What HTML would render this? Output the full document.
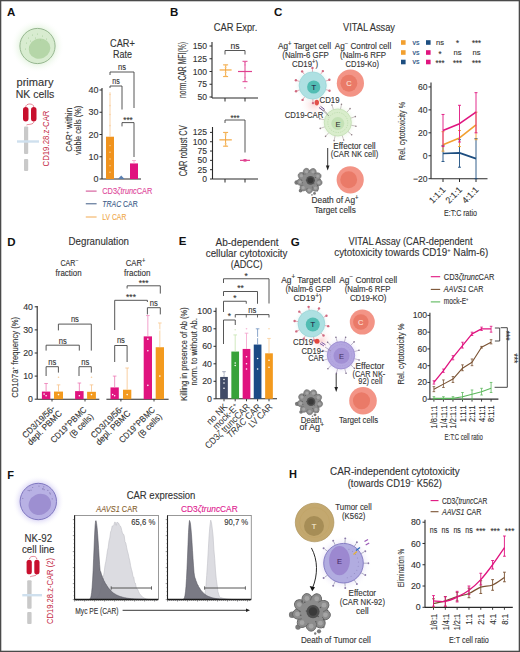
<!DOCTYPE html><html><head><meta charset="utf-8"><style>html,body{margin:0;padding:0;background:#fff;}svg{display:block;}</style></head><body><svg width="520" height="652" viewBox="0 0 520 652" font-family='"Liberation Sans", sans-serif' fill="#333"><rect x="0.00" y="0.00" width="520.00" height="652.00" fill="#ffffff" />
<text x="7.00" y="16.20" font-size="11.5" fill="#111" font-weight="bold" >A</text>
<defs><radialGradient id="glowG" cx="50%" cy="50%" r="50%"><stop offset="55%" stop-color="#d9efd2" stop-opacity="1"/><stop offset="100%" stop-color="#ffffff" stop-opacity="0"/></radialGradient><radialGradient id="glowP" cx="50%" cy="50%" r="50%"><stop offset="60%" stop-color="#c6bff0" stop-opacity="1"/><stop offset="100%" stop-color="#ffffff" stop-opacity="0"/></radialGradient></defs>
<circle cx="37.50" cy="46.00" r="27.00" fill="url(#glowG)" />
<circle cx="37.50" cy="46.00" r="17.60" fill="#d8ecd0" stroke="#8fb088" stroke-width="0.9"/>
<ellipse cx="39.5" cy="48.6" rx="11" ry="10" transform="rotate(-25 39.5 48.6)" fill="#b5d6a8"/>
<circle cx="28.50" cy="38.00" r="0.55" fill="#a8cf9c" />
<circle cx="32.50" cy="35.00" r="0.55" fill="#a8cf9c" />
<circle cx="37.50" cy="34.00" r="0.55" fill="#a8cf9c" />
<circle cx="42.50" cy="36.00" r="0.55" fill="#a8cf9c" />
<circle cx="26.50" cy="43.00" r="0.55" fill="#a8cf9c" />
<circle cx="30.50" cy="41.00" r="0.55" fill="#a8cf9c" />
<circle cx="35.50" cy="38.00" r="0.55" fill="#a8cf9c" />
<circle cx="40.50" cy="40.00" r="0.55" fill="#a8cf9c" />
<circle cx="25.50" cy="49.00" r="0.55" fill="#a8cf9c" />
<circle cx="29.50" cy="47.00" r="0.55" fill="#a8cf9c" />
<circle cx="46.50" cy="39.00" r="0.55" fill="#a8cf9c" />
<text x="35.00" y="86.00" font-size="10.71" text-anchor="middle" stroke="#333" stroke-width="0.12" textLength="37.00" lengthAdjust="spacingAndGlyphs" >primary</text>
<text x="35.00" y="97.50" font-size="10.71" text-anchor="middle" stroke="#333" stroke-width="0.12" textLength="38.50" lengthAdjust="spacingAndGlyphs" >NK cells</text>
<rect x="23" y="107" width="5.5" height="14.5" rx="2.75" fill="#c8102e"/>
<rect x="31" y="107" width="5.5" height="14.5" rx="2.75" fill="#c8102e"/>
<path d="M25.7 107 C25.7 103 33.8 103 33.8 107 M33.8 121.5 C33.8 125 28 124 26.5 125" stroke="#c8102e" stroke-width="0.5" fill="none" />
<rect x="24.00" y="126.50" width="4.20" height="27.50" fill="#c9c9c9" rx="1"/>
<rect x="24.00" y="159.00" width="4.20" height="12.00" fill="#c9c9c9" rx="1"/>
<rect x="17.00" y="140.30" width="22.00" height="2.40" fill="#cfe0ee" />
<text x="48.80" y="138.50" font-size="9.03" text-anchor="middle" fill="#c42a44" textLength="56.00" lengthAdjust="spacingAndGlyphs" transform="rotate(-90 48.80 138.50)" >CD19.28.z-CAR</text>
<text x="72.30" y="129.70" font-size="9.66" text-anchor="middle" stroke="#333" stroke-width="0.12" textLength="44.00" lengthAdjust="spacingAndGlyphs" transform="rotate(-90 72.30 129.70)" >CAR<tspan dy="-3" font-size="6">+</tspan><tspan dy="3"> within</tspan></text>
<text x="81.30" y="130.40" font-size="9.66" text-anchor="middle" stroke="#333" stroke-width="0.12" textLength="49.00" lengthAdjust="spacingAndGlyphs" transform="rotate(-90 81.30 130.40)" >viable cells (%)</text>
<text x="122.40" y="46.70" font-size="10.08" text-anchor="middle" stroke="#333" stroke-width="0.12" textLength="24.80" lengthAdjust="spacingAndGlyphs" >CAR+</text>
<text x="122.40" y="57.70" font-size="10.08" text-anchor="middle" stroke="#333" stroke-width="0.12" textLength="19.00" lengthAdjust="spacingAndGlyphs" >Rate</text>
<line x1="102.00" y1="88.00" x2="102.00" y2="179.00" stroke="#2a2a2a" stroke-width="1.1" />
<line x1="99.50" y1="179.00" x2="102.00" y2="179.00" stroke="#2a2a2a" stroke-width="0.9900000000000001" />
<text x="98.50" y="182.15" font-size="9.45" text-anchor="end" stroke="#333" stroke-width="0.12" textLength="5.00" lengthAdjust="spacingAndGlyphs" >0</text>
<line x1="99.50" y1="156.75" x2="102.00" y2="156.75" stroke="#2a2a2a" stroke-width="0.9900000000000001" />
<text x="98.50" y="159.90" font-size="9.45" text-anchor="end" stroke="#333" stroke-width="0.12" textLength="10.01" lengthAdjust="spacingAndGlyphs" >10</text>
<line x1="99.50" y1="134.50" x2="102.00" y2="134.50" stroke="#2a2a2a" stroke-width="0.9900000000000001" />
<text x="98.50" y="137.65" font-size="9.45" text-anchor="end" stroke="#333" stroke-width="0.12" textLength="10.01" lengthAdjust="spacingAndGlyphs" >20</text>
<line x1="99.50" y1="112.25" x2="102.00" y2="112.25" stroke="#2a2a2a" stroke-width="0.9900000000000001" />
<text x="98.50" y="115.40" font-size="9.45" text-anchor="end" stroke="#333" stroke-width="0.12" textLength="10.01" lengthAdjust="spacingAndGlyphs" >30</text>
<line x1="99.50" y1="90.00" x2="102.00" y2="90.00" stroke="#2a2a2a" stroke-width="0.9900000000000001" />
<text x="98.50" y="93.15" font-size="9.45" text-anchor="end" stroke="#333" stroke-width="0.12" textLength="10.01" lengthAdjust="spacingAndGlyphs" >40</text>
<line x1="102.00" y1="179.00" x2="141.00" y2="179.00" stroke="#2a2a2a" stroke-width="1.1" />
<rect x="106.00" y="136.72" width="8.00" height="42.28" fill="#f0931e" />
<circle cx="110.00" cy="172.32" r="0.70" fill="#fbd9a8" />
<circle cx="110.00" cy="165.65" r="0.70" fill="#fbd9a8" />
<circle cx="110.00" cy="158.97" r="0.70" fill="#fbd9a8" />
<circle cx="110.00" cy="152.30" r="0.70" fill="#fbd9a8" />
<circle cx="110.00" cy="145.62" r="0.70" fill="#fbd9a8" />
<path d="M118 179.0 L121.2 175.44 L124.5 179.0 Z" stroke="none" stroke-width="1" fill="#5a7fb0" />
<rect x="130.00" y="163.43" width="8.00" height="15.57" fill="#e0137f" />
<line x1="110.00" y1="136.72" x2="110.00" y2="92.22" stroke="#f7c690" stroke-width="0.8" />
<circle cx="110.00" cy="125.60" r="0.80" fill="#f8d2a8" />
<circle cx="110.00" cy="114.47" r="0.80" fill="#f8d2a8" />
<circle cx="110.00" cy="105.58" r="0.80" fill="#f8d2a8" />
<circle cx="110.00" cy="94.45" r="0.80" fill="#f8d2a8" />
<line x1="134.00" y1="163.43" x2="134.00" y2="160.53" stroke="#f5a0c8" stroke-width="0.8" />
<line x1="132.00" y1="160.53" x2="136.00" y2="160.53" stroke="#f5a0c8" stroke-width="0.8" />
<text x="122.00" y="69.80" font-size="9.03" text-anchor="middle" stroke="#333" stroke-width="0.12" textLength="8.00" lengthAdjust="spacingAndGlyphs" >ns</text>
<path d="M110.00 75.00V72.00H134.00V108.00" stroke="#444" stroke-width="0.9" fill="none" />
<text x="116.00" y="84.20" font-size="9.03" text-anchor="middle" stroke="#333" stroke-width="0.12" textLength="7.50" lengthAdjust="spacingAndGlyphs" >ns</text>
<path d="M110.00 88.00V86.00H122.00V109.50" stroke="#444" stroke-width="0.9" fill="none" />
<text x="128.00" y="122.60" font-size="9.03" text-anchor="middle" stroke="#333" stroke-width="0.12" textLength="9.50" lengthAdjust="spacingAndGlyphs" >***</text>
<path d="M122.00 126.40V122.60H134.00V157.00" stroke="#444" stroke-width="0.9" fill="none" />
<line x1="85.80" y1="191.10" x2="96.60" y2="191.10" stroke="#c8307f" stroke-width="0.9" />
<text x="102.30" y="194.20" font-size="8.61" fill="#e0479a" stroke="#e0479a" stroke-width="0.12" textLength="50.00" lengthAdjust="spacingAndGlyphs" >CD3<tspan font-style="italic">ζtrunc</tspan>CAR</text>
<line x1="85.80" y1="203.80" x2="96.60" y2="203.80" stroke="#2a4a78" stroke-width="0.9" />
<text x="102.30" y="207.00" font-size="8.61" fill="#3a5a88" stroke="#3a5a88" stroke-width="0.12" textLength="35.40" lengthAdjust="spacingAndGlyphs" ><tspan font-style="italic">TRAC</tspan> CAR</text>
<line x1="85.80" y1="217.00" x2="96.60" y2="217.00" stroke="#f0a040" stroke-width="0.9" />
<text x="102.30" y="219.70" font-size="8.61" fill="#f0a848" stroke="#f0a848" stroke-width="0.12" textLength="24.00" lengthAdjust="spacingAndGlyphs" >LV CAR</text>
<text x="170.00" y="16.20" font-size="11.5" fill="#111" font-weight="bold" >B</text>
<text x="235.50" y="31.00" font-size="10.29" text-anchor="middle" stroke="#333" stroke-width="0.12" textLength="43.50" lengthAdjust="spacingAndGlyphs" >CAR Expr.</text>
<line x1="212.00" y1="42.00" x2="212.00" y2="98.00" stroke="#2a2a2a" stroke-width="1.1" />
<line x1="209.50" y1="97.00" x2="212.00" y2="97.00" stroke="#2a2a2a" stroke-width="0.9900000000000001" />
<text x="207.00" y="100.01" font-size="9.03" text-anchor="end" stroke="#333" stroke-width="0.12" textLength="9.56" lengthAdjust="spacingAndGlyphs" >50</text>
<line x1="209.50" y1="84.25" x2="212.00" y2="84.25" stroke="#2a2a2a" stroke-width="0.9900000000000001" />
<text x="207.00" y="87.26" font-size="9.03" text-anchor="end" stroke="#333" stroke-width="0.12" textLength="9.56" lengthAdjust="spacingAndGlyphs" >75</text>
<line x1="209.50" y1="71.50" x2="212.00" y2="71.50" stroke="#2a2a2a" stroke-width="0.9900000000000001" />
<text x="207.00" y="74.51" font-size="9.03" text-anchor="end" stroke="#333" stroke-width="0.12" textLength="14.35" lengthAdjust="spacingAndGlyphs" >100</text>
<line x1="209.50" y1="58.75" x2="212.00" y2="58.75" stroke="#2a2a2a" stroke-width="0.9900000000000001" />
<text x="207.00" y="61.76" font-size="9.03" text-anchor="end" stroke="#333" stroke-width="0.12" textLength="14.35" lengthAdjust="spacingAndGlyphs" >125</text>
<line x1="209.50" y1="46.00" x2="212.00" y2="46.00" stroke="#2a2a2a" stroke-width="0.9900000000000001" />
<text x="207.00" y="49.01" font-size="9.03" text-anchor="end" stroke="#333" stroke-width="0.12" textLength="14.35" lengthAdjust="spacingAndGlyphs" >150</text>
<line x1="212.00" y1="98.00" x2="258.00" y2="98.00" stroke="#2a2a2a" stroke-width="1.1" />
<line x1="225.00" y1="98.00" x2="225.00" y2="101.50" stroke="#2a2a2a" stroke-width="1" />
<line x1="245.00" y1="98.00" x2="245.00" y2="101.50" stroke="#2a2a2a" stroke-width="1" />
<text x="186.30" y="70.00" font-size="10.71" text-anchor="middle" stroke="#333" stroke-width="0.12" textLength="56.00" lengthAdjust="spacingAndGlyphs" transform="rotate(-90 186.30 70.00)" >norm.CAR MFI(%)</text>
<text x="235.00" y="48.50" font-size="9.03" text-anchor="middle" stroke="#333" stroke-width="0.12" textLength="9.08" lengthAdjust="spacingAndGlyphs" >ns</text>
<path d="M225.00 54.50V50.50H245.00V54.50" stroke="#444" stroke-width="0.9" fill="none" />
<line x1="219.60" y1="69.97" x2="231.60" y2="69.97" stroke="#f2a640" stroke-width="1.2" />
<line x1="225.60" y1="64.87" x2="225.60" y2="76.60" stroke="#f2a640" stroke-width="1.0" />
<line x1="223.10" y1="64.87" x2="228.10" y2="64.87" stroke="#f2a640" stroke-width="1.0" />
<line x1="223.10" y1="76.60" x2="228.10" y2="76.60" stroke="#f2a640" stroke-width="1.0" />
<circle cx="225.60" cy="75.58" r="0.90" fill="#f6c070" />
<circle cx="225.60" cy="72.52" r="0.90" fill="#f6c070" />
<circle cx="225.60" cy="67.42" r="0.90" fill="#f6c070" />
<circle cx="225.60" cy="65.38" r="0.90" fill="#f6c070" />
<line x1="238.00" y1="71.50" x2="252.00" y2="71.50" stroke="#e0408f" stroke-width="1.2" />
<line x1="245.00" y1="61.30" x2="245.00" y2="81.70" stroke="#e0408f" stroke-width="1.0" />
<line x1="242.50" y1="61.30" x2="247.50" y2="61.30" stroke="#e0408f" stroke-width="1.0" />
<line x1="242.50" y1="81.70" x2="247.50" y2="81.70" stroke="#e0408f" stroke-width="1.0" />
<circle cx="245.00" cy="87.82" r="0.90" fill="#ec80b8" />
<circle cx="245.00" cy="77.62" r="0.90" fill="#ec80b8" />
<circle cx="245.00" cy="64.87" r="0.90" fill="#ec80b8" />
<circle cx="245.00" cy="62.32" r="0.90" fill="#ec80b8" />
<line x1="212.50" y1="127.00" x2="212.50" y2="179.00" stroke="#2a2a2a" stroke-width="1.1" />
<line x1="210.00" y1="179.00" x2="212.50" y2="179.00" stroke="#2a2a2a" stroke-width="0.9900000000000001" />
<text x="207.00" y="182.01" font-size="9.03" text-anchor="end" stroke="#333" stroke-width="0.12" textLength="4.78" lengthAdjust="spacingAndGlyphs" >0</text>
<line x1="210.00" y1="169.68" x2="212.50" y2="169.68" stroke="#2a2a2a" stroke-width="0.9900000000000001" />
<text x="207.00" y="172.69" font-size="9.03" text-anchor="end" stroke="#333" stroke-width="0.12" textLength="9.56" lengthAdjust="spacingAndGlyphs" >25</text>
<line x1="210.00" y1="160.36" x2="212.50" y2="160.36" stroke="#2a2a2a" stroke-width="0.9900000000000001" />
<text x="207.00" y="163.37" font-size="9.03" text-anchor="end" stroke="#333" stroke-width="0.12" textLength="9.56" lengthAdjust="spacingAndGlyphs" >50</text>
<line x1="210.00" y1="151.04" x2="212.50" y2="151.04" stroke="#2a2a2a" stroke-width="0.9900000000000001" />
<text x="207.00" y="154.05" font-size="9.03" text-anchor="end" stroke="#333" stroke-width="0.12" textLength="9.56" lengthAdjust="spacingAndGlyphs" >75</text>
<line x1="210.00" y1="141.72" x2="212.50" y2="141.72" stroke="#2a2a2a" stroke-width="0.9900000000000001" />
<text x="207.00" y="144.73" font-size="9.03" text-anchor="end" stroke="#333" stroke-width="0.12" textLength="14.35" lengthAdjust="spacingAndGlyphs" >100</text>
<line x1="210.00" y1="132.40" x2="212.50" y2="132.40" stroke="#2a2a2a" stroke-width="0.9900000000000001" />
<text x="207.00" y="135.41" font-size="9.03" text-anchor="end" stroke="#333" stroke-width="0.12" textLength="14.35" lengthAdjust="spacingAndGlyphs" >125</text>
<line x1="212.50" y1="179.00" x2="258.00" y2="179.00" stroke="#2a2a2a" stroke-width="1.1" />
<line x1="225.00" y1="179.00" x2="225.00" y2="182.50" stroke="#2a2a2a" stroke-width="1" />
<line x1="245.00" y1="179.00" x2="245.00" y2="182.50" stroke="#2a2a2a" stroke-width="1" />
<text x="187.00" y="150.80" font-size="10.71" text-anchor="middle" stroke="#333" stroke-width="0.12" textLength="51.00" lengthAdjust="spacingAndGlyphs" transform="rotate(-90 187.00 150.80)" >CAR robust CV</text>
<text x="235.00" y="120.60" font-size="9.03" text-anchor="middle" stroke="#333" stroke-width="0.12" textLength="9.00" lengthAdjust="spacingAndGlyphs" >***</text>
<path d="M225.00 123.00V120.00H245.00V152.50" stroke="#444" stroke-width="0.9" fill="none" />
<line x1="219.40" y1="139.86" x2="231.80" y2="139.86" stroke="#f2a640" stroke-width="1.2" />
<line x1="225.60" y1="132.40" x2="225.60" y2="146.19" stroke="#f2a640" stroke-width="1.0" />
<line x1="223.10" y1="132.40" x2="228.10" y2="132.40" stroke="#f2a640" stroke-width="1.0" />
<line x1="223.10" y1="146.19" x2="228.10" y2="146.19" stroke="#f2a640" stroke-width="1.0" />
<circle cx="225.60" cy="145.45" r="0.90" fill="#f6c070" />
<circle cx="225.60" cy="143.58" r="0.90" fill="#f6c070" />
<circle cx="225.60" cy="135.01" r="0.90" fill="#f6c070" />
<circle cx="225.60" cy="133.52" r="0.90" fill="#f6c070" />
<line x1="240.00" y1="160.36" x2="250.00" y2="160.36" stroke="#e0408f" stroke-width="1.2" />
<line x1="245.00" y1="159.61" x2="245.00" y2="161.11" stroke="#e0408f" stroke-width="1.0" />
<line x1="243.50" y1="159.61" x2="246.50" y2="159.61" stroke="#e0408f" stroke-width="1.0" />
<line x1="243.50" y1="161.11" x2="246.50" y2="161.11" stroke="#e0408f" stroke-width="1.0" />
<text x="274.00" y="16.00" font-size="11.5" fill="#111" font-weight="bold" >C</text>
<text x="369.00" y="31.00" font-size="10.29" text-anchor="middle" stroke="#333" stroke-width="0.12" textLength="52.00" lengthAdjust="spacingAndGlyphs" >VITAL Assay</text>
<text x="304.50" y="49.00" font-size="9.03" text-anchor="middle" stroke="#333" stroke-width="0.12" textLength="53.00" lengthAdjust="spacingAndGlyphs" >Ag<tspan dy="-3" font-size="6.6">+</tspan><tspan dy="3"> Target cell</tspan></text>
<text x="305.50" y="58.30" font-size="9.03" text-anchor="middle" stroke="#333" stroke-width="0.12" textLength="46.50" lengthAdjust="spacingAndGlyphs" >(Nalm-6 GFP</text>
<text x="305.00" y="67.30" font-size="9.03" text-anchor="middle" stroke="#333" stroke-width="0.12" textLength="26.00" lengthAdjust="spacingAndGlyphs" >CD19<tspan dy="-3" font-size="6.6">+</tspan><tspan dy="3">)</tspan></text>
<text x="363.00" y="49.00" font-size="9.03" text-anchor="middle" stroke="#333" stroke-width="0.12" textLength="56.50" lengthAdjust="spacingAndGlyphs" >Ag<tspan dy="-3" font-size="6.6">−</tspan><tspan dy="3"> Control cell</tspan></text>
<text x="363.00" y="58.30" font-size="9.03" text-anchor="middle" stroke="#333" stroke-width="0.12" textLength="46.00" lengthAdjust="spacingAndGlyphs" >(Nalm-6 RFP</text>
<text x="362.30" y="67.30" font-size="9.03" text-anchor="middle" stroke="#333" stroke-width="0.12" textLength="33.50" lengthAdjust="spacingAndGlyphs" >CD19-Ko)</text>
<defs><radialGradient id="glowT" cx="50%" cy="50%" r="50%"><stop offset="60%" stop-color="#d8f0f0"/><stop offset="100%" stop-color="#fff" stop-opacity="0"/></radialGradient><radialGradient id="glowR" cx="50%" cy="50%" r="50%"><stop offset="0%" stop-color="#fbd6d6"/><stop offset="100%" stop-color="#fff" stop-opacity="0"/></radialGradient><radialGradient id="glowE" cx="50%" cy="50%" r="50%"><stop offset="60%" stop-color="#e6f3de"/><stop offset="100%" stop-color="#fff" stop-opacity="0"/></radialGradient></defs>
<circle cx="314.00" cy="104.00" r="14.00" fill="url(#glowR)" />
<circle cx="312.70" cy="85.50" r="18.60" fill="url(#glowT)" />
<line x1="325.69" y1="89.52" x2="329.51" y2="90.70" stroke="#d98a98" stroke-width="0.7" />
<circle cx="329.51" cy="90.70" r="1.20" fill="#d06a80" />
<line x1="312.89" y1="99.10" x2="312.95" y2="103.10" stroke="#d98a98" stroke-width="0.7" />
<circle cx="312.95" cy="103.10" r="1.20" fill="#d06a80" />
<line x1="304.86" y1="96.61" x2="302.56" y2="99.88" stroke="#d98a98" stroke-width="0.7" />
<circle cx="302.56" cy="99.88" r="1.20" fill="#d06a80" />
<line x1="299.83" y1="89.89" x2="296.04" y2="91.18" stroke="#d98a98" stroke-width="0.7" />
<circle cx="296.04" cy="91.18" r="1.20" fill="#d06a80" />
<line x1="299.71" y1="81.48" x2="295.89" y2="80.30" stroke="#d98a98" stroke-width="0.7" />
<circle cx="295.89" cy="80.30" r="1.20" fill="#d06a80" />
<line x1="304.55" y1="74.61" x2="302.15" y2="71.41" stroke="#d98a98" stroke-width="0.7" />
<circle cx="302.15" cy="71.41" r="1.20" fill="#d06a80" />
<line x1="312.51" y1="71.90" x2="312.45" y2="67.90" stroke="#d98a98" stroke-width="0.7" />
<circle cx="312.45" cy="67.90" r="1.20" fill="#d06a80" />
<line x1="320.54" y1="74.39" x2="322.84" y2="71.12" stroke="#d98a98" stroke-width="0.7" />
<circle cx="322.84" cy="71.12" r="1.20" fill="#d06a80" />
<line x1="325.57" y1="81.11" x2="329.36" y2="79.82" stroke="#d98a98" stroke-width="0.7" />
<circle cx="329.36" cy="79.82" r="1.20" fill="#d06a80" />
<circle cx="312.70" cy="85.50" r="13.60" fill="#aee0e2" stroke="#8fd0d2" stroke-width="0.6"/>
<circle cx="313.70" cy="87.00" r="6.60" fill="#52bdb3" />
<text x="313.70" y="89.80" font-size="7.88" text-anchor="middle" fill="#224" stroke="#224" stroke-width="0.12" textLength="4.58" lengthAdjust="spacingAndGlyphs" >T</text>
<circle cx="350.40" cy="83.20" r="13.60" fill="#f39486" />
<circle cx="348.90" cy="83.20" r="8.43" fill="#ea7a68" />
<text x="348.90" y="86.00" font-size="7.88" text-anchor="middle" fill="#fde0d8" stroke="#fde0d8" stroke-width="0.12" textLength="5.42" lengthAdjust="spacingAndGlyphs" >C</text>
<circle cx="337.80" cy="122.50" r="19.00" fill="url(#glowE)" />
<line x1="351.13" y1="125.20" x2="355.93" y2="126.18" stroke="#9a8a8a" stroke-width="0.5" />
<circle cx="355.93" cy="126.18" r="0.80" fill="#8f7f86" />
<line x1="347.99" y1="131.50" x2="351.66" y2="134.75" stroke="#9a8a8a" stroke-width="0.5" />
<circle cx="351.66" cy="134.75" r="0.80" fill="#8f7f86" />
<line x1="342.12" y1="135.39" x2="343.68" y2="140.04" stroke="#9a8a8a" stroke-width="0.5" />
<circle cx="343.68" cy="140.04" r="0.80" fill="#8f7f86" />
<line x1="335.10" y1="135.83" x2="334.12" y2="140.63" stroke="#9a8a8a" stroke-width="0.5" />
<circle cx="334.12" cy="140.63" r="0.80" fill="#8f7f86" />
<line x1="328.80" y1="132.69" x2="325.55" y2="136.36" stroke="#9a8a8a" stroke-width="0.5" />
<circle cx="325.55" cy="136.36" r="0.80" fill="#8f7f86" />
<line x1="324.91" y1="126.82" x2="320.26" y2="128.38" stroke="#9a8a8a" stroke-width="0.5" />
<circle cx="320.26" cy="128.38" r="0.80" fill="#8f7f86" />
<line x1="324.47" y1="119.80" x2="319.67" y2="118.82" stroke="#9a8a8a" stroke-width="0.5" />
<circle cx="319.67" cy="118.82" r="0.80" fill="#8f7f86" />
<line x1="327.61" y1="113.50" x2="323.94" y2="110.25" stroke="#9a8a8a" stroke-width="0.5" />
<circle cx="323.94" cy="110.25" r="0.80" fill="#8f7f86" />
<line x1="333.48" y1="109.61" x2="331.92" y2="104.96" stroke="#9a8a8a" stroke-width="0.5" />
<circle cx="331.92" cy="104.96" r="0.80" fill="#8f7f86" />
<line x1="340.50" y1="109.17" x2="341.48" y2="104.37" stroke="#9a8a8a" stroke-width="0.5" />
<circle cx="341.48" cy="104.37" r="0.80" fill="#8f7f86" />
<line x1="346.80" y1="112.31" x2="350.05" y2="108.64" stroke="#9a8a8a" stroke-width="0.5" />
<circle cx="350.05" cy="108.64" r="0.80" fill="#8f7f86" />
<line x1="350.69" y1="118.18" x2="355.34" y2="116.62" stroke="#9a8a8a" stroke-width="0.5" />
<circle cx="355.34" cy="116.62" r="0.80" fill="#8f7f86" />
<circle cx="337.80" cy="122.50" r="13.60" fill="#d9edcc" stroke="#b8d9a8" stroke-width="0.6"/>
<circle cx="337.80" cy="122.50" r="10.00" fill="none" stroke="#a5cc95" stroke-width="0.5" stroke-dasharray="1.2 1.2"/>
<circle cx="337.80" cy="123.50" r="6.50" fill="#c4e2b6" />
<text x="338.00" y="126.50" font-size="7.88" text-anchor="middle" stroke="#333" stroke-width="0.12" textLength="5.00" lengthAdjust="spacingAndGlyphs" >E</text>
<ellipse cx="316.8" cy="102.6" rx="2.2" ry="2.8" fill="#e2504a"/>
<line x1="319.00" y1="107.50" x2="323.00" y2="110.50" stroke="#5a3a80" stroke-width="0.9" />
<line x1="320.50" y1="106.30" x2="324.50" y2="109.30" stroke="#5a3a80" stroke-width="0.9" />
<line x1="323.00" y1="110.70" x2="329.00" y2="116.00" stroke="#6a6a6a" stroke-width="0.6" />
<text x="329.50" y="103.00" font-size="8.61" text-anchor="middle" stroke="#333" stroke-width="0.12" textLength="20.00" lengthAdjust="spacingAndGlyphs" >CD19</text>
<text x="304.00" y="118.00" font-size="8.61" text-anchor="middle" stroke="#333" stroke-width="0.12" textLength="38.50" lengthAdjust="spacingAndGlyphs" >CD19-CAR</text>
<text x="354.50" y="148.60" font-size="9.24" text-anchor="middle" stroke="#333" stroke-width="0.12" textLength="42.30" lengthAdjust="spacingAndGlyphs" >Effector cell</text>
<text x="354.50" y="157.30" font-size="9.24" text-anchor="middle" stroke="#333" stroke-width="0.12" textLength="47.50" lengthAdjust="spacingAndGlyphs" >(CAR NK cell)</text>
<line x1="327.70" y1="148.00" x2="327.70" y2="166.00" stroke="#222" stroke-width="0.9" />
<path d="M325.9 165.5 L327.7 170.5 L329.5 165.5 Z" stroke="none" stroke-width="1" fill="#222" />
<circle cx="300.51" cy="190.67" r="1.80" fill="#7a7a7a" />
<circle cx="296.63" cy="182.43" r="2.20" fill="#7a7a7a" />
<circle cx="314.50" cy="193.46" r="1.40" fill="#7a7a7a" />
<circle cx="317.27" cy="190.39" r="1.00" fill="#7a7a7a" />
<circle cx="311.96" cy="194.89" r="0.80" fill="#7a7a7a" />
<ellipse cx="317.54" cy="182.23" rx="4.60" ry="3.60" transform="rotate(11.5 317.54 182.23)" fill="#8c8c8c" stroke="#666" stroke-width="0.60"/>
<ellipse cx="314.61" cy="187.01" rx="4.60" ry="3.60" transform="rotate(51.5 314.61 187.01)" fill="#8c8c8c" stroke="#666" stroke-width="0.60"/>
<ellipse cx="309.29" cy="188.80" rx="4.60" ry="3.60" transform="rotate(91.5 309.29 188.80)" fill="#8c8c8c" stroke="#666" stroke-width="0.60"/>
<ellipse cx="304.07" cy="186.75" rx="4.60" ry="3.60" transform="rotate(131.5 304.07 186.75)" fill="#8c8c8c" stroke="#666" stroke-width="0.60"/>
<ellipse cx="301.39" cy="181.82" rx="4.60" ry="3.60" transform="rotate(171.5 301.39 181.82)" fill="#8c8c8c" stroke="#666" stroke-width="0.60"/>
<ellipse cx="302.51" cy="176.32" rx="4.60" ry="3.60" transform="rotate(211.5 302.51 176.32)" fill="#8c8c8c" stroke="#666" stroke-width="0.60"/>
<ellipse cx="306.89" cy="172.83" rx="4.60" ry="3.60" transform="rotate(251.5 306.89 172.83)" fill="#8c8c8c" stroke="#666" stroke-width="0.60"/>
<ellipse cx="312.50" cy="172.97" rx="4.60" ry="3.60" transform="rotate(291.5 312.50 172.97)" fill="#8c8c8c" stroke="#666" stroke-width="0.60"/>
<ellipse cx="316.70" cy="176.68" rx="4.60" ry="3.60" transform="rotate(331.5 316.70 176.68)" fill="#8c8c8c" stroke="#666" stroke-width="0.60"/>
<circle cx="309.50" cy="180.60" r="7.80" fill="#8c8c8c" />
<circle cx="302.35" cy="182.80" r="0.50" fill="#5a5a5a" />
<circle cx="315.48" cy="177.52" r="0.50" fill="#5a5a5a" />
<circle cx="301.81" cy="180.22" r="0.50" fill="#5a5a5a" />
<circle cx="312.33" cy="187.11" r="0.50" fill="#5a5a5a" />
<circle cx="303.10" cy="173.79" r="0.50" fill="#5a5a5a" />
<circle cx="314.01" cy="183.63" r="0.50" fill="#5a5a5a" />
<circle cx="317.48" cy="185.71" r="0.50" fill="#5a5a5a" />
<circle cx="308.34" cy="177.47" r="0.50" fill="#5a5a5a" />
<circle cx="320.15" cy="179.40" r="0.50" fill="#5a5a5a" />
<circle cx="305.00" cy="174.08" r="0.50" fill="#5a5a5a" />
<circle cx="311.21" cy="183.21" r="0.50" fill="#5a5a5a" />
<circle cx="306.08" cy="179.98" r="0.50" fill="#5a5a5a" />
<circle cx="318.81" cy="182.49" r="1.60" fill="#a5a5a5" />
<circle cx="315.42" cy="188.03" r="1.60" fill="#a5a5a5" />
<circle cx="309.26" cy="190.10" r="1.60" fill="#a5a5a5" />
<circle cx="303.21" cy="187.72" r="1.60" fill="#a5a5a5" />
<circle cx="300.11" cy="182.01" r="1.60" fill="#a5a5a5" />
<circle cx="301.40" cy="175.64" r="1.60" fill="#a5a5a5" />
<circle cx="306.48" cy="171.59" r="1.60" fill="#a5a5a5" />
<circle cx="312.98" cy="171.76" r="1.60" fill="#a5a5a5" />
<circle cx="317.85" cy="176.06" r="1.60" fill="#a5a5a5" />
<circle cx="310.50" cy="180.30" r="4.40" fill="#4f4f4f" />
<circle cx="310.50" cy="180.30" r="2.80" fill="#3a3a3a" />
<circle cx="350.20" cy="179.80" r="13.60" fill="#f39486" />
<circle cx="348.70" cy="179.80" r="8.43" fill="#ea7a68" />
<text x="335.00" y="203.00" font-size="9.24" text-anchor="middle" stroke="#333" stroke-width="0.12" textLength="47.00" lengthAdjust="spacingAndGlyphs" >Death of Ag<tspan dy="-3" font-size="6.6">+</tspan></text>
<text x="335.00" y="212.70" font-size="9.24" text-anchor="middle" stroke="#333" stroke-width="0.12" textLength="41.50" lengthAdjust="spacingAndGlyphs" >Target cells</text>
<rect x="401.00" y="40.20" width="4.60" height="4.60" fill="#f2a030" />
<text x="416.00" y="44.70" font-size="7.56" text-anchor="middle" fill="#1d4e80" stroke="#1d4e80" stroke-width="0.12" textLength="7.00" lengthAdjust="spacingAndGlyphs" >vs</text>
<rect x="426.00" y="40.20" width="4.60" height="4.60" fill="#1d4e80" />
<text x="440.00" y="45.10" font-size="7.77" text-anchor="middle" stroke="#333" stroke-width="0.12" textLength="8.00" lengthAdjust="spacingAndGlyphs" >ns</text>
<text x="457.50" y="46.30" font-size="8.19" text-anchor="middle" stroke="#333" stroke-width="0.12" textLength="3.04" lengthAdjust="spacingAndGlyphs" >*</text>
<text x="476.50" y="46.30" font-size="8.19" text-anchor="middle" stroke="#333" stroke-width="0.12" textLength="9.00" lengthAdjust="spacingAndGlyphs" >***</text>
<rect x="401.00" y="50.20" width="4.60" height="4.60" fill="#f2a030" />
<text x="416.00" y="54.70" font-size="7.56" text-anchor="middle" fill="#1d4e80" stroke="#1d4e80" stroke-width="0.12" textLength="7.00" lengthAdjust="spacingAndGlyphs" >vs</text>
<rect x="426.00" y="50.20" width="4.60" height="4.60" fill="#e0157f" />
<text x="440.00" y="57.10" font-size="8.19" text-anchor="middle" stroke="#333" stroke-width="0.12" textLength="3.04" lengthAdjust="spacingAndGlyphs" >*</text>
<text x="457.50" y="55.10" font-size="7.77" text-anchor="middle" stroke="#333" stroke-width="0.12" textLength="8.00" lengthAdjust="spacingAndGlyphs" >ns</text>
<text x="476.50" y="55.10" font-size="7.77" text-anchor="middle" stroke="#333" stroke-width="0.12" textLength="8.00" lengthAdjust="spacingAndGlyphs" >ns</text>
<rect x="401.00" y="59.70" width="4.60" height="4.60" fill="#1d4e80" />
<text x="416.00" y="64.20" font-size="7.56" text-anchor="middle" fill="#1d4e80" stroke="#1d4e80" stroke-width="0.12" textLength="7.00" lengthAdjust="spacingAndGlyphs" >vs</text>
<rect x="426.00" y="59.70" width="4.60" height="4.60" fill="#e0157f" />
<text x="440.00" y="65.80" font-size="8.19" text-anchor="middle" stroke="#333" stroke-width="0.12" textLength="9.00" lengthAdjust="spacingAndGlyphs" >***</text>
<text x="457.50" y="65.80" font-size="8.19" text-anchor="middle" stroke="#333" stroke-width="0.12" textLength="9.00" lengthAdjust="spacingAndGlyphs" >***</text>
<text x="476.50" y="65.80" font-size="8.19" text-anchor="middle" stroke="#333" stroke-width="0.12" textLength="9.00" lengthAdjust="spacingAndGlyphs" >***</text>
<line x1="431.00" y1="82.50" x2="431.00" y2="178.75" stroke="#2a2a2a" stroke-width="1.1" />
<line x1="428.50" y1="86.94" x2="431.00" y2="86.94" stroke="#2a2a2a" stroke-width="0.9900000000000001" />
<text x="427.50" y="89.95" font-size="9.03" text-anchor="end" stroke="#333" stroke-width="0.12" textLength="9.56" lengthAdjust="spacingAndGlyphs" >60</text>
<line x1="428.50" y1="109.88" x2="431.00" y2="109.88" stroke="#2a2a2a" stroke-width="0.9900000000000001" />
<text x="427.50" y="112.89" font-size="9.03" text-anchor="end" stroke="#333" stroke-width="0.12" textLength="9.56" lengthAdjust="spacingAndGlyphs" >40</text>
<line x1="428.50" y1="132.81" x2="431.00" y2="132.81" stroke="#2a2a2a" stroke-width="0.9900000000000001" />
<text x="427.50" y="135.82" font-size="9.03" text-anchor="end" stroke="#333" stroke-width="0.12" textLength="9.56" lengthAdjust="spacingAndGlyphs" >20</text>
<line x1="428.50" y1="155.75" x2="431.00" y2="155.75" stroke="#2a2a2a" stroke-width="0.9900000000000001" />
<text x="427.50" y="158.76" font-size="9.03" text-anchor="end" stroke="#333" stroke-width="0.12" textLength="4.78" lengthAdjust="spacingAndGlyphs" >0</text>
<line x1="428.50" y1="178.69" x2="431.00" y2="178.69" stroke="#2a2a2a" stroke-width="0.9900000000000001" />
<text x="427.50" y="181.70" font-size="9.03" text-anchor="end" stroke="#333" stroke-width="0.12" textLength="14.59" lengthAdjust="spacingAndGlyphs" >−20</text>
<line x1="431.00" y1="178.75" x2="487.50" y2="178.75" stroke="#2a2a2a" stroke-width="1.1" />
<line x1="443.00" y1="178.75" x2="443.00" y2="182.00" stroke="#2a2a2a" stroke-width="1" />
<line x1="459.50" y1="178.75" x2="459.50" y2="182.00" stroke="#2a2a2a" stroke-width="1" />
<line x1="476.00" y1="178.75" x2="476.00" y2="182.00" stroke="#2a2a2a" stroke-width="1" />
<line x1="443.00" y1="161.48" x2="443.00" y2="145.43" stroke="#1d4e80" stroke-width="0.9" />
<line x1="441.50" y1="161.48" x2="444.50" y2="161.48" stroke="#1d4e80" stroke-width="0.9" />
<line x1="441.50" y1="145.43" x2="444.50" y2="145.43" stroke="#1d4e80" stroke-width="0.9" />
<line x1="459.50" y1="167.22" x2="459.50" y2="139.69" stroke="#1d4e80" stroke-width="0.9" />
<line x1="458.00" y1="167.22" x2="461.00" y2="167.22" stroke="#1d4e80" stroke-width="0.9" />
<line x1="458.00" y1="139.69" x2="461.00" y2="139.69" stroke="#1d4e80" stroke-width="0.9" />
<line x1="476.00" y1="178.69" x2="476.00" y2="138.55" stroke="#1d4e80" stroke-width="0.9" />
<line x1="474.50" y1="178.69" x2="477.50" y2="178.69" stroke="#1d4e80" stroke-width="0.9" />
<line x1="474.50" y1="138.55" x2="477.50" y2="138.55" stroke="#1d4e80" stroke-width="0.9" />
<path d="M443.00 153.46 L459.50 152.88 L476.00 158.62" stroke="#1d4e80" stroke-width="1.6" fill="none" stroke-linejoin="round"/>
<line x1="443.00" y1="151.16" x2="443.00" y2="131.67" stroke="#f2a030" stroke-width="0.9" />
<line x1="441.50" y1="151.16" x2="444.50" y2="151.16" stroke="#f2a030" stroke-width="0.9" />
<line x1="441.50" y1="131.67" x2="444.50" y2="131.67" stroke="#f2a030" stroke-width="0.9" />
<line x1="459.50" y1="146.57" x2="459.50" y2="130.52" stroke="#f2a030" stroke-width="0.9" />
<line x1="458.00" y1="146.57" x2="461.00" y2="146.57" stroke="#f2a030" stroke-width="0.9" />
<line x1="458.00" y1="130.52" x2="461.00" y2="130.52" stroke="#f2a030" stroke-width="0.9" />
<line x1="476.00" y1="139.69" x2="476.00" y2="112.17" stroke="#f2a030" stroke-width="0.9" />
<line x1="474.50" y1="139.69" x2="477.50" y2="139.69" stroke="#f2a030" stroke-width="0.9" />
<line x1="474.50" y1="112.17" x2="477.50" y2="112.17" stroke="#f2a030" stroke-width="0.9" />
<path d="M443.00 144.85 L459.50 137.97 L476.00 124.78" stroke="#f2a030" stroke-width="1.6" fill="none" stroke-linejoin="round"/>
<line x1="443.00" y1="146.57" x2="443.00" y2="114.46" stroke="#e0157f" stroke-width="0.9" />
<line x1="441.50" y1="146.57" x2="444.50" y2="146.57" stroke="#e0157f" stroke-width="0.9" />
<line x1="441.50" y1="114.46" x2="444.50" y2="114.46" stroke="#e0157f" stroke-width="0.9" />
<line x1="459.50" y1="141.99" x2="459.50" y2="105.29" stroke="#e0157f" stroke-width="0.9" />
<line x1="458.00" y1="141.99" x2="461.00" y2="141.99" stroke="#e0157f" stroke-width="0.9" />
<line x1="458.00" y1="105.29" x2="461.00" y2="105.29" stroke="#e0157f" stroke-width="0.9" />
<line x1="476.00" y1="132.81" x2="476.00" y2="92.67" stroke="#e0157f" stroke-width="0.9" />
<line x1="474.50" y1="132.81" x2="477.50" y2="132.81" stroke="#e0157f" stroke-width="0.9" />
<line x1="474.50" y1="92.67" x2="477.50" y2="92.67" stroke="#e0157f" stroke-width="0.9" />
<path d="M443.00 130.52 L459.50 123.64 L476.00 112.17" stroke="#e0157f" stroke-width="1.6" fill="none" stroke-linejoin="round"/>
<text x="404.50" y="131.00" font-size="9.03" text-anchor="middle" stroke="#333" stroke-width="0.12" textLength="58.00" lengthAdjust="spacingAndGlyphs" transform="rotate(-90 404.50 131.00)" >Rel. cytotoxicity %</text>
<text x="446.20" y="190.50" font-size="9.03" text-anchor="end" stroke="#333" stroke-width="0.12" textLength="19.00" lengthAdjust="spacingAndGlyphs" transform="rotate(-45 446.20 190.50)" >1:1:1</text>
<text x="462.70" y="190.50" font-size="9.03" text-anchor="end" stroke="#333" stroke-width="0.12" textLength="19.00" lengthAdjust="spacingAndGlyphs" transform="rotate(-45 462.70 190.50)" >2:1:1</text>
<text x="479.20" y="190.50" font-size="9.03" text-anchor="end" stroke="#333" stroke-width="0.12" textLength="19.00" lengthAdjust="spacingAndGlyphs" transform="rotate(-45 479.20 190.50)" >4:1:1</text>
<text x="460.50" y="215.50" font-size="8.82" text-anchor="middle" stroke="#333" stroke-width="0.12" textLength="33.00" lengthAdjust="spacingAndGlyphs" >E:T:C ratio</text>
<text x="7.20" y="246.30" font-size="11.5" fill="#111" font-weight="bold" >D</text>
<text x="98.80" y="244.50" font-size="10.29" text-anchor="middle" stroke="#333" stroke-width="0.12" textLength="60.40" lengthAdjust="spacingAndGlyphs" >Degranulation</text>
<text x="69.50" y="266.00" font-size="8.82" text-anchor="middle" stroke="#333" stroke-width="0.12" textLength="18.00" lengthAdjust="spacingAndGlyphs" >CAR<tspan dy="-3.2" font-size="6.6">−</tspan></text>
<text x="68.60" y="275.70" font-size="8.82" text-anchor="middle" stroke="#333" stroke-width="0.12" textLength="26.00" lengthAdjust="spacingAndGlyphs" >fraction</text>
<text x="135.60" y="266.00" font-size="8.82" text-anchor="middle" stroke="#333" stroke-width="0.12" textLength="19.60" lengthAdjust="spacingAndGlyphs" >CAR<tspan dy="-3.2" font-size="6.6">+</tspan></text>
<text x="137.20" y="275.70" font-size="8.82" text-anchor="middle" stroke="#333" stroke-width="0.12" textLength="26.30" lengthAdjust="spacingAndGlyphs" >fraction</text>
<line x1="37.20" y1="305.90" x2="37.20" y2="399.20" stroke="#2a2a2a" stroke-width="1.1" />
<line x1="34.70" y1="399.20" x2="37.20" y2="399.20" stroke="#2a2a2a" stroke-width="0.9900000000000001" />
<text x="33.00" y="402.28" font-size="9.24" text-anchor="end" stroke="#333" stroke-width="0.12" textLength="4.89" lengthAdjust="spacingAndGlyphs" >0</text>
<line x1="34.70" y1="376.10" x2="37.20" y2="376.10" stroke="#2a2a2a" stroke-width="0.9900000000000001" />
<text x="33.00" y="379.18" font-size="9.24" text-anchor="end" stroke="#333" stroke-width="0.12" textLength="9.79" lengthAdjust="spacingAndGlyphs" >10</text>
<line x1="34.70" y1="353.00" x2="37.20" y2="353.00" stroke="#2a2a2a" stroke-width="0.9900000000000001" />
<text x="33.00" y="356.08" font-size="9.24" text-anchor="end" stroke="#333" stroke-width="0.12" textLength="9.79" lengthAdjust="spacingAndGlyphs" >20</text>
<line x1="34.70" y1="329.90" x2="37.20" y2="329.90" stroke="#2a2a2a" stroke-width="0.9900000000000001" />
<text x="33.00" y="332.98" font-size="9.24" text-anchor="end" stroke="#333" stroke-width="0.12" textLength="9.79" lengthAdjust="spacingAndGlyphs" >30</text>
<line x1="34.70" y1="306.80" x2="37.20" y2="306.80" stroke="#2a2a2a" stroke-width="0.9900000000000001" />
<text x="33.00" y="309.88" font-size="9.24" text-anchor="end" stroke="#333" stroke-width="0.12" textLength="9.79" lengthAdjust="spacingAndGlyphs" >40</text>
<line x1="37.20" y1="399.20" x2="99.30" y2="399.20" stroke="#2a2a2a" stroke-width="1.1" />
<line x1="106.40" y1="399.20" x2="168.60" y2="399.20" stroke="#2a2a2a" stroke-width="1.1" />
<line x1="52.00" y1="399.20" x2="52.00" y2="401.50" stroke="#2a2a2a" stroke-width="0.9" />
<line x1="85.00" y1="399.20" x2="85.00" y2="401.50" stroke="#2a2a2a" stroke-width="0.9" />
<line x1="120.90" y1="399.20" x2="120.90" y2="401.50" stroke="#2a2a2a" stroke-width="0.9" />
<line x1="154.00" y1="399.20" x2="154.00" y2="401.50" stroke="#2a2a2a" stroke-width="0.9" />
<rect x="41.90" y="391.58" width="8.40" height="7.62" fill="#e0137f" />
<line x1="46.10" y1="391.58" x2="46.10" y2="383.49" stroke="#ec78b4" stroke-width="0.8" />
<line x1="44.30" y1="383.49" x2="47.90" y2="383.49" stroke="#ec78b4" stroke-width="0.8" />
<circle cx="46.10" cy="395.74" r="0.80" fill="#fff" />
<circle cx="44.10" cy="394.12" r="0.80" fill="#fff" />
<rect x="54.00" y="391.58" width="9.00" height="7.62" fill="#f39a1e" />
<line x1="58.50" y1="391.58" x2="58.50" y2="384.88" stroke="#f7c38a" stroke-width="0.8" />
<line x1="56.70" y1="384.88" x2="60.30" y2="384.88" stroke="#f7c38a" stroke-width="0.8" />
<circle cx="58.50" cy="394.58" r="0.80" fill="#fff" />
<circle cx="58.50" cy="377.25" r="0.80" fill="#f8cfa0" />
<rect x="75.10" y="391.12" width="8.50" height="8.08" fill="#e0137f" />
<line x1="79.35" y1="391.12" x2="79.35" y2="383.03" stroke="#ec78b4" stroke-width="0.8" />
<line x1="77.55" y1="383.03" x2="81.15" y2="383.03" stroke="#ec78b4" stroke-width="0.8" />
<circle cx="79.35" cy="395.74" r="0.80" fill="#fff" />
<rect x="87.10" y="391.81" width="8.80" height="7.39" fill="#f39a1e" />
<line x1="91.50" y1="391.81" x2="91.50" y2="384.88" stroke="#f7c38a" stroke-width="0.8" />
<line x1="89.70" y1="384.88" x2="93.30" y2="384.88" stroke="#f7c38a" stroke-width="0.8" />
<circle cx="91.50" cy="394.58" r="0.80" fill="#fff" />
<circle cx="91.50" cy="377.25" r="0.80" fill="#f8cfa0" />
<rect x="110.50" y="387.42" width="8.30" height="11.78" fill="#e0137f" />
<line x1="114.65" y1="387.42" x2="114.65" y2="376.10" stroke="#ec78b4" stroke-width="0.8" />
<line x1="112.85" y1="376.10" x2="116.45" y2="376.10" stroke="#ec78b4" stroke-width="0.8" />
<circle cx="114.65" cy="395.74" r="0.80" fill="#fff" />
<circle cx="112.65" cy="394.58" r="0.80" fill="#fff" />
<rect x="123.00" y="389.73" width="8.30" height="9.47" fill="#f39a1e" />
<line x1="127.15" y1="389.73" x2="127.15" y2="368.01" stroke="#f7c38a" stroke-width="0.8" />
<line x1="125.35" y1="368.01" x2="128.95" y2="368.01" stroke="#f7c38a" stroke-width="0.8" />
<circle cx="127.15" cy="394.58" r="0.80" fill="#fff" />
<rect x="143.70" y="336.37" width="8.30" height="62.83" fill="#e0137f" />
<line x1="147.85" y1="336.37" x2="147.85" y2="315.58" stroke="#f08cc0" stroke-width="0.8" />
<line x1="146.05" y1="315.58" x2="149.65" y2="315.58" stroke="#f08cc0" stroke-width="0.8" />
<circle cx="147.85" cy="350.69" r="0.80" fill="#fff" />
<circle cx="147.85" cy="385.34" r="0.80" fill="#fff" />
<circle cx="147.85" cy="339.14" r="0.80" fill="#fff" />
<rect x="155.70" y="347.23" width="8.30" height="51.97" fill="#f39a1e" />
<line x1="159.85" y1="347.23" x2="159.85" y2="322.97" stroke="#f9c890" stroke-width="0.8" />
<line x1="158.05" y1="322.97" x2="161.65" y2="322.97" stroke="#f9c890" stroke-width="0.8" />
<circle cx="159.85" cy="376.10" r="0.80" fill="#fff" />
<circle cx="159.85" cy="329.90" r="0.80" fill="#fff" />
<text x="52.30" y="364.50" font-size="8.61" text-anchor="middle" stroke="#333" stroke-width="0.12" textLength="8.00" lengthAdjust="spacingAndGlyphs" >ns</text>
<path d="M46.10 376.00V366.70H58.40V372.60" stroke="#444" stroke-width="0.9" fill="none" />
<text x="85.20" y="364.50" font-size="8.61" text-anchor="middle" stroke="#333" stroke-width="0.12" textLength="8.00" lengthAdjust="spacingAndGlyphs" >ns</text>
<path d="M79.00 376.00V366.70H91.30V372.60" stroke="#444" stroke-width="0.9" fill="none" />
<text x="62.70" y="343.50" font-size="8.61" text-anchor="middle" stroke="#333" stroke-width="0.12" textLength="8.00" lengthAdjust="spacingAndGlyphs" >ns</text>
<path d="M46.10 350.60V345.20H79.30V350.60" stroke="#444" stroke-width="0.9" fill="none" />
<text x="74.90" y="322.40" font-size="8.61" text-anchor="middle" stroke="#333" stroke-width="0.12" textLength="8.00" lengthAdjust="spacingAndGlyphs" >ns</text>
<path d="M58.40 330.40V324.10H91.30V350.60" stroke="#444" stroke-width="0.9" fill="none" />
<text x="143.70" y="286.20" font-size="8.82" text-anchor="middle" stroke="#333" stroke-width="0.12" textLength="9.81" lengthAdjust="spacingAndGlyphs" >***</text>
<path d="M127.10 288.50V285.80H160.30V293.60" stroke="#444" stroke-width="0.9" fill="none" />
<text x="131.00" y="300.20" font-size="8.82" text-anchor="middle" stroke="#333" stroke-width="0.12" textLength="9.81" lengthAdjust="spacingAndGlyphs" >***</text>
<path d="M114.70 330.00V300.30H147.40V302.00" stroke="#444" stroke-width="0.9" fill="none" />
<text x="153.80" y="306.20" font-size="8.61" text-anchor="middle" stroke="#333" stroke-width="0.12" textLength="8.00" lengthAdjust="spacingAndGlyphs" >ns</text>
<path d="M147.40 314.40V307.70H160.30V314.40" stroke="#444" stroke-width="0.9" fill="none" />
<text x="120.90" y="343.20" font-size="8.61" text-anchor="middle" stroke="#333" stroke-width="0.12" textLength="8.00" lengthAdjust="spacingAndGlyphs" >ns</text>
<path d="M114.70 362.00V345.50H127.10V362.00" stroke="#444" stroke-width="0.9" fill="none" />
<text x="18.00" y="357.30" font-size="9.87" text-anchor="middle" stroke="#333" stroke-width="0.12" textLength="81.00" lengthAdjust="spacingAndGlyphs" transform="rotate(-90 18.00 357.30)" >CD107a<tspan dy="-3.2" font-size="6">+</tspan><tspan dy="3.2"> frequency (%)</tspan></text>
<g transform="translate(55.50 409.00) rotate(-45)"><text x="-21.00" y="0.00" font-size="8.82" text-anchor="middle" textLength="42.00" lengthAdjust="spacingAndGlyphs" stroke="#333" stroke-width="0.12">CD3/19/56-</text><text x="-21.00" y="8.40" font-size="8.82" text-anchor="middle" textLength="45.00" lengthAdjust="spacingAndGlyphs" stroke="#333" stroke-width="0.12">depl. PBMC</text></g>
<g transform="translate(88.50 409.00) rotate(-45)"><text x="-25.40" y="0.00" font-size="8.82" text-anchor="middle" textLength="47.00" lengthAdjust="spacingAndGlyphs" stroke="#333" stroke-width="0.12">CD19<tspan dy="-3" font-size="6.6">+</tspan><tspan dy="3">PBMC</tspan></text><text x="-16.90" y="9.60" font-size="8.82" text-anchor="middle" textLength="30.00" lengthAdjust="spacingAndGlyphs" stroke="#333" stroke-width="0.12">(B cells)</text></g>
<g transform="translate(124.00 409.00) rotate(-45)"><text x="-21.00" y="0.00" font-size="8.82" text-anchor="middle" textLength="42.00" lengthAdjust="spacingAndGlyphs" stroke="#333" stroke-width="0.12">CD3/19/56-</text><text x="-21.00" y="8.40" font-size="8.82" text-anchor="middle" textLength="45.00" lengthAdjust="spacingAndGlyphs" stroke="#333" stroke-width="0.12">depl. PBMC</text></g>
<g transform="translate(157.00 409.00) rotate(-45)"><text x="-25.40" y="0.00" font-size="8.82" text-anchor="middle" textLength="47.00" lengthAdjust="spacingAndGlyphs" stroke="#333" stroke-width="0.12">CD19<tspan dy="-3" font-size="6.6">+</tspan><tspan dy="3">PBMC</tspan></text><text x="-16.90" y="9.60" font-size="8.82" text-anchor="middle" textLength="30.00" lengthAdjust="spacingAndGlyphs" stroke="#333" stroke-width="0.12">(B cells)</text></g>
<text x="178.70" y="245.20" font-size="11.5" fill="#111" font-weight="bold" >E</text>
<text x="247.00" y="245.50" font-size="10.29" text-anchor="middle" stroke="#333" stroke-width="0.12" textLength="63.00" lengthAdjust="spacingAndGlyphs" >Ab-dependent</text>
<text x="246.60" y="257.00" font-size="10.29" text-anchor="middle" stroke="#333" stroke-width="0.12" textLength="81.70" lengthAdjust="spacingAndGlyphs" >cellular cytotoxicity</text>
<text x="246.60" y="268.00" font-size="10.29" text-anchor="middle" stroke="#333" stroke-width="0.12" textLength="31.70" lengthAdjust="spacingAndGlyphs" >(ADCC)</text>
<line x1="216.00" y1="307.70" x2="216.00" y2="398.80" stroke="#2a2a2a" stroke-width="1.1" />
<line x1="213.50" y1="398.80" x2="216.00" y2="398.80" stroke="#2a2a2a" stroke-width="0.9900000000000001" />
<text x="212.00" y="401.88" font-size="9.24" text-anchor="end" stroke="#333" stroke-width="0.12" textLength="4.89" lengthAdjust="spacingAndGlyphs" >0</text>
<line x1="213.50" y1="381.30" x2="216.00" y2="381.30" stroke="#2a2a2a" stroke-width="0.9900000000000001" />
<text x="212.00" y="384.38" font-size="9.24" text-anchor="end" stroke="#333" stroke-width="0.12" textLength="9.79" lengthAdjust="spacingAndGlyphs" >20</text>
<line x1="213.50" y1="363.80" x2="216.00" y2="363.80" stroke="#2a2a2a" stroke-width="0.9900000000000001" />
<text x="212.00" y="366.88" font-size="9.24" text-anchor="end" stroke="#333" stroke-width="0.12" textLength="9.79" lengthAdjust="spacingAndGlyphs" >40</text>
<line x1="213.50" y1="346.30" x2="216.00" y2="346.30" stroke="#2a2a2a" stroke-width="0.9900000000000001" />
<text x="212.00" y="349.38" font-size="9.24" text-anchor="end" stroke="#333" stroke-width="0.12" textLength="9.79" lengthAdjust="spacingAndGlyphs" >60</text>
<line x1="213.50" y1="328.80" x2="216.00" y2="328.80" stroke="#2a2a2a" stroke-width="0.9900000000000001" />
<text x="212.00" y="331.88" font-size="9.24" text-anchor="end" stroke="#333" stroke-width="0.12" textLength="9.79" lengthAdjust="spacingAndGlyphs" >80</text>
<line x1="213.50" y1="311.30" x2="216.00" y2="311.30" stroke="#2a2a2a" stroke-width="0.9900000000000001" />
<text x="212.00" y="314.38" font-size="9.24" text-anchor="end" stroke="#333" stroke-width="0.12" textLength="14.68" lengthAdjust="spacingAndGlyphs" >100</text>
<line x1="216.00" y1="398.80" x2="277.00" y2="398.80" stroke="#2a2a2a" stroke-width="1.1" />
<line x1="224.00" y1="398.80" x2="224.00" y2="401.30" stroke="#2a2a2a" stroke-width="0.9" />
<line x1="235.20" y1="398.80" x2="235.20" y2="401.30" stroke="#2a2a2a" stroke-width="0.9" />
<line x1="246.50" y1="398.80" x2="246.50" y2="401.30" stroke="#2a2a2a" stroke-width="0.9" />
<line x1="257.60" y1="398.80" x2="257.60" y2="401.30" stroke="#2a2a2a" stroke-width="0.9" />
<line x1="269.00" y1="398.80" x2="269.00" y2="401.30" stroke="#2a2a2a" stroke-width="0.9" />
<rect x="220.15" y="376.93" width="7.70" height="21.88" fill="#414b67" />
<line x1="224.00" y1="376.93" x2="224.00" y2="371.68" stroke="#8f97ad" stroke-width="0.8" />
<line x1="222.20" y1="371.68" x2="225.80" y2="371.68" stroke="#8f97ad" stroke-width="0.8" />
<circle cx="224.00" cy="388.30" r="0.80" fill="#fff" />
<circle cx="224.00" cy="383.05" r="0.80" fill="#fff" />
<circle cx="224.00" cy="379.55" r="0.80" fill="#fff" />
<circle cx="223.00" cy="374.30" r="0.80" fill="#fff" />
<rect x="231.35" y="351.55" width="7.70" height="47.25" fill="#38a23a" />
<line x1="235.20" y1="351.55" x2="235.20" y2="334.93" stroke="#c5e3b0" stroke-width="0.8" />
<line x1="233.40" y1="334.93" x2="237.00" y2="334.93" stroke="#c5e3b0" stroke-width="0.8" />
<circle cx="235.20" cy="365.55" r="0.80" fill="#fff" />
<circle cx="235.20" cy="362.93" r="0.80" fill="#fff" />
<circle cx="235.20" cy="329.68" r="0.80" fill="#d8ecc8" />
<rect x="242.65" y="348.93" width="7.70" height="49.88" fill="#e0137f" />
<line x1="246.50" y1="348.93" x2="246.50" y2="333.18" stroke="#f4a0cb" stroke-width="0.8" />
<line x1="244.70" y1="333.18" x2="248.30" y2="333.18" stroke="#f4a0cb" stroke-width="0.8" />
<circle cx="246.50" cy="369.05" r="0.80" fill="#fff" />
<circle cx="246.50" cy="363.80" r="0.80" fill="#fff" />
<circle cx="246.50" cy="356.80" r="0.80" fill="#fff" />
<circle cx="246.50" cy="328.80" r="0.80" fill="#f6b6d6" />
<rect x="253.75" y="344.55" width="7.70" height="54.25" fill="#1b4a85" />
<line x1="257.60" y1="344.55" x2="257.60" y2="328.80" stroke="#6f8fbe" stroke-width="0.8" />
<line x1="255.80" y1="328.80" x2="259.40" y2="328.80" stroke="#6f8fbe" stroke-width="0.8" />
<circle cx="257.60" cy="369.05" r="0.80" fill="#fff" />
<circle cx="257.60" cy="358.55" r="0.80" fill="#fff" />
<circle cx="257.60" cy="337.55" r="0.80" fill="#fff" />
<rect x="265.15" y="353.30" width="7.70" height="45.50" fill="#f39a1e" />
<line x1="269.00" y1="353.30" x2="269.00" y2="338.43" stroke="#f9cd95" stroke-width="0.8" />
<line x1="267.20" y1="338.43" x2="270.80" y2="338.43" stroke="#f9cd95" stroke-width="0.8" />
<circle cx="269.00" cy="367.30" r="0.80" fill="#fff" />
<circle cx="269.00" cy="360.30" r="0.80" fill="#fff" />
<circle cx="269.00" cy="328.80" r="0.80" fill="#fbd8ad" />
<text x="246.20" y="278.60" font-size="8.82" text-anchor="middle" stroke="#333" stroke-width="0.12" textLength="3.27" lengthAdjust="spacingAndGlyphs" >*</text>
<path d="M223.50 283.00V278.75H269.00V303.50" stroke="#444" stroke-width="0.9" fill="none" />
<text x="240.50" y="290.60" font-size="8.82" text-anchor="middle" stroke="#333" stroke-width="0.12" textLength="6.54" lengthAdjust="spacingAndGlyphs" >**</text>
<path d="M223.50 296.00V291.50H257.50V303.75" stroke="#444" stroke-width="0.9" fill="none" />
<text x="234.80" y="300.60" font-size="8.82" text-anchor="middle" stroke="#333" stroke-width="0.12" textLength="3.27" lengthAdjust="spacingAndGlyphs" >*</text>
<path d="M223.50 312.00V301.25H246.25V303.75" stroke="#444" stroke-width="0.9" fill="none" />
<text x="252.30" y="313.00" font-size="8.82" text-anchor="middle" stroke="#333" stroke-width="0.12" textLength="8.00" lengthAdjust="spacingAndGlyphs" >ns</text>
<path d="M235.25 317.50V314.60H269.00V317.50" stroke="#444" stroke-width="0.9" fill="none" />
<line x1="246.25" y1="314.60" x2="246.25" y2="317.50" stroke="#444" stroke-width="0.8" />
<line x1="257.50" y1="314.60" x2="257.50" y2="317.50" stroke="#444" stroke-width="0.8" />
<text x="229.40" y="319.20" font-size="8.82" text-anchor="middle" stroke="#333" stroke-width="0.12" textLength="3.27" lengthAdjust="spacingAndGlyphs" >*</text>
<path d="M223.50 344.00V320.00H235.25V325.00" stroke="#444" stroke-width="0.9" fill="none" />
<text x="187.20" y="354.00" font-size="9.24" text-anchor="middle" stroke="#333" stroke-width="0.12" textLength="93.50" lengthAdjust="spacingAndGlyphs" transform="rotate(-90 187.20 354.00)" >Killing in presence of Ab (%)</text>
<text x="197.20" y="351.80" font-size="9.24" text-anchor="middle" stroke="#333" stroke-width="0.12" textLength="67.50" lengthAdjust="spacingAndGlyphs" transform="rotate(-90 197.20 351.80)" >norm. to without Ab.</text>
<g transform="translate(228.00 407.50) rotate(-45)"><text x="0" y="0" font-size="9.4" text-anchor="end" textLength="25" lengthAdjust="spacingAndGlyphs">no NK</text></g>
<g transform="translate(239.20 407.50) rotate(-45)"><text x="0" y="0" font-size="9.4" text-anchor="end" textLength="32" lengthAdjust="spacingAndGlyphs">mock-E<tspan dy="-3" font-size="6.6">+</tspan></text></g>
<g transform="translate(250.50 407.50) rotate(-45)"><text x="0" y="0" font-size="9.4" text-anchor="end" textLength="59" lengthAdjust="spacingAndGlyphs">CD3<tspan font-style="italic">ζ</tspan> truncCAR</text></g>
<g transform="translate(261.60 407.50) rotate(-45)"><text x="0" y="0" font-size="9.4" text-anchor="end" textLength="44" lengthAdjust="spacingAndGlyphs"><tspan font-style="italic">TRAC</tspan> CAR</text></g>
<g transform="translate(273.00 407.50) rotate(-45)"><text x="0" y="0" font-size="9.4" text-anchor="end" textLength="29.5" lengthAdjust="spacingAndGlyphs">LV CAR</text></g>
<text x="290.80" y="245.60" font-size="11.5" fill="#111" font-weight="bold" >G</text>
<text x="410.50" y="245.30" font-size="10.29" text-anchor="middle" stroke="#333" stroke-width="0.12" textLength="124.00" lengthAdjust="spacingAndGlyphs" >VITAL Assay (CAR-dependent</text>
<text x="411.30" y="255.80" font-size="10.29" text-anchor="middle" stroke="#333" stroke-width="0.12" textLength="154.00" lengthAdjust="spacingAndGlyphs" >cytotoxicity towards CD19<tspan dy="-3.5" font-size="6">+</tspan><tspan dy="3.5"> Nalm-6)</tspan></text>
<text x="308.30" y="282.60" font-size="9.03" text-anchor="middle" stroke="#333" stroke-width="0.12" textLength="54.00" lengthAdjust="spacingAndGlyphs" >Ag<tspan dy="-3.2" font-size="6.8">+</tspan><tspan dy="3.2"> Target cell</tspan></text>
<text x="308.30" y="291.60" font-size="9.03" text-anchor="middle" stroke="#333" stroke-width="0.12" textLength="45.80" lengthAdjust="spacingAndGlyphs" >(Nalm-6 GFP</text>
<text x="307.60" y="300.80" font-size="9.03" text-anchor="middle" stroke="#333" stroke-width="0.12" textLength="28.30" lengthAdjust="spacingAndGlyphs" >CD19<tspan dy="-3.2" font-size="6.8">+</tspan><tspan dy="3.2">)</tspan></text>
<text x="368.20" y="282.60" font-size="9.03" text-anchor="middle" stroke="#333" stroke-width="0.12" textLength="58.00" lengthAdjust="spacingAndGlyphs" >Ag<tspan dy="-3.2" font-size="6.8">−</tspan><tspan dy="3.2"> Control cell</tspan></text>
<text x="367.60" y="291.60" font-size="9.03" text-anchor="middle" stroke="#333" stroke-width="0.12" textLength="45.80" lengthAdjust="spacingAndGlyphs" >(Nalm-6 RFP</text>
<text x="368.20" y="300.80" font-size="9.03" text-anchor="middle" stroke="#333" stroke-width="0.12" textLength="36.50" lengthAdjust="spacingAndGlyphs" >CD19-KO)</text>
<defs><radialGradient id="glowPu" cx="50%" cy="50%" r="50%"><stop offset="55%" stop-color="#ddd6f3"/><stop offset="100%" stop-color="#fff" stop-opacity="0"/></radialGradient></defs>
<circle cx="321.00" cy="341.00" r="14.00" fill="url(#glowR)" />
<circle cx="311.40" cy="323.60" r="18.40" fill="url(#glowT)" />
<line x1="324.65" y1="325.60" x2="328.21" y2="326.14" stroke="#d98a98" stroke-width="0.7" />
<circle cx="328.21" cy="326.14" r="1.20" fill="#d06a80" />
<line x1="320.94" y1="333.01" x2="323.51" y2="335.54" stroke="#d98a98" stroke-width="0.7" />
<circle cx="323.51" cy="335.54" r="1.20" fill="#d06a80" />
<line x1="313.59" y1="336.82" x2="314.18" y2="340.37" stroke="#d98a98" stroke-width="0.7" />
<circle cx="314.18" cy="340.37" r="1.20" fill="#d06a80" />
<line x1="305.40" y1="335.58" x2="303.79" y2="338.80" stroke="#d98a98" stroke-width="0.7" />
<circle cx="303.79" cy="338.80" r="1.20" fill="#d06a80" />
<line x1="299.50" y1="329.77" x2="296.31" y2="331.42" stroke="#d98a98" stroke-width="0.7" />
<circle cx="296.31" cy="331.42" r="1.20" fill="#d06a80" />
<line x1="298.15" y1="321.60" x2="294.59" y2="321.06" stroke="#d98a98" stroke-width="0.7" />
<circle cx="294.59" cy="321.06" r="1.20" fill="#d06a80" />
<line x1="301.86" y1="314.19" x2="299.29" y2="311.66" stroke="#d98a98" stroke-width="0.7" />
<circle cx="299.29" cy="311.66" r="1.20" fill="#d06a80" />
<line x1="309.21" y1="310.38" x2="308.62" y2="306.83" stroke="#d98a98" stroke-width="0.7" />
<circle cx="308.62" cy="306.83" r="1.20" fill="#d06a80" />
<line x1="317.40" y1="311.62" x2="319.01" y2="308.40" stroke="#d98a98" stroke-width="0.7" />
<circle cx="319.01" cy="308.40" r="1.20" fill="#d06a80" />
<line x1="323.30" y1="317.43" x2="326.49" y2="315.78" stroke="#d98a98" stroke-width="0.7" />
<circle cx="326.49" cy="315.78" r="1.20" fill="#d06a80" />
<circle cx="311.40" cy="323.60" r="13.40" fill="#aee0e2" stroke="#8fd0d2" stroke-width="0.6"/>
<circle cx="312.80" cy="324.50" r="7.00" fill="#52bdb3" />
<text x="312.80" y="327.40" font-size="7.88" text-anchor="middle" fill="#224" stroke="#224" stroke-width="0.12" textLength="4.58" lengthAdjust="spacingAndGlyphs" >T</text>
<circle cx="362.30" cy="322.10" r="12.50" fill="#f39486" />
<circle cx="360.80" cy="322.10" r="7.75" fill="#ea7a68" />
<text x="360.80" y="324.90" font-size="7.88" text-anchor="middle" fill="#fde0d8" stroke="#fde0d8" stroke-width="0.12" textLength="5.42" lengthAdjust="spacingAndGlyphs" >C</text>
<circle cx="341.00" cy="355.30" r="19.70" fill="url(#glowPu)" />
<line x1="354.27" y1="358.69" x2="359.12" y2="359.93" stroke="#8a7a9a" stroke-width="0.5" />
<circle cx="359.12" cy="359.93" r="0.80" fill="#7a6a8a" />
<line x1="350.80" y1="364.87" x2="354.38" y2="368.37" stroke="#8a7a9a" stroke-width="0.5" />
<circle cx="354.38" cy="368.37" r="0.80" fill="#7a6a8a" />
<line x1="344.70" y1="368.49" x2="346.05" y2="373.30" stroke="#8a7a9a" stroke-width="0.5" />
<circle cx="346.05" cy="373.30" r="0.80" fill="#7a6a8a" />
<line x1="337.61" y1="368.57" x2="336.37" y2="373.42" stroke="#8a7a9a" stroke-width="0.5" />
<circle cx="336.37" cy="373.42" r="0.80" fill="#7a6a8a" />
<line x1="331.43" y1="365.10" x2="327.93" y2="368.68" stroke="#8a7a9a" stroke-width="0.5" />
<circle cx="327.93" cy="368.68" r="0.80" fill="#7a6a8a" />
<line x1="327.81" y1="359.00" x2="323.00" y2="360.35" stroke="#8a7a9a" stroke-width="0.5" />
<circle cx="323.00" cy="360.35" r="0.80" fill="#7a6a8a" />
<line x1="327.73" y1="351.91" x2="322.88" y2="350.67" stroke="#8a7a9a" stroke-width="0.5" />
<circle cx="322.88" cy="350.67" r="0.80" fill="#7a6a8a" />
<line x1="331.20" y1="345.73" x2="327.62" y2="342.23" stroke="#8a7a9a" stroke-width="0.5" />
<circle cx="327.62" cy="342.23" r="0.80" fill="#7a6a8a" />
<line x1="337.30" y1="342.11" x2="335.95" y2="337.30" stroke="#8a7a9a" stroke-width="0.5" />
<circle cx="335.95" cy="337.30" r="0.80" fill="#7a6a8a" />
<line x1="344.39" y1="342.03" x2="345.63" y2="337.18" stroke="#8a7a9a" stroke-width="0.5" />
<circle cx="345.63" cy="337.18" r="0.80" fill="#7a6a8a" />
<line x1="350.57" y1="345.50" x2="354.07" y2="341.92" stroke="#8a7a9a" stroke-width="0.5" />
<circle cx="354.07" cy="341.92" r="0.80" fill="#7a6a8a" />
<line x1="354.19" y1="351.60" x2="359.00" y2="350.25" stroke="#8a7a9a" stroke-width="0.5" />
<circle cx="359.00" cy="350.25" r="0.80" fill="#7a6a8a" />
<circle cx="341.00" cy="355.30" r="13.70" fill="#b3a6e0" stroke="#9484cc" stroke-width="0.7"/>
<circle cx="341.00" cy="355.30" r="10.70" fill="none" stroke="#a495d0" stroke-width="0.5" stroke-dasharray="1.2 1.2"/>
<circle cx="341.50" cy="355.80" r="8.00" fill="#a18fd4" />
<text x="341.50" y="358.60" font-size="7.88" text-anchor="middle" fill="#4a3a6a" stroke="#4a3a6a" stroke-width="0.12" textLength="5.00" lengthAdjust="spacingAndGlyphs" >E</text>
<circle cx="317.00" cy="341.30" r="2.50" fill="#e2463e" />
<line x1="320.00" y1="343.50" x2="324.00" y2="346.00" stroke="#6a4aa0" stroke-width="0.9" />
<line x1="321.50" y1="342.30" x2="325.50" y2="344.80" stroke="#6a4aa0" stroke-width="0.9" />
<line x1="325.00" y1="347.00" x2="331.00" y2="351.00" stroke="#8a7a9a" stroke-width="0.6" />
<text x="303.00" y="345.20" font-size="8.82" text-anchor="middle" stroke="#333" stroke-width="0.12" textLength="20.00" lengthAdjust="spacingAndGlyphs" >CD19</text>
<text x="312.60" y="353.80" font-size="8.82" text-anchor="middle" stroke="#333" stroke-width="0.12" textLength="22.00" lengthAdjust="spacingAndGlyphs" >CD19-</text>
<text x="316.00" y="360.60" font-size="8.82" text-anchor="middle" stroke="#333" stroke-width="0.12" textLength="15.40" lengthAdjust="spacingAndGlyphs" >CAR</text>
<text x="369.80" y="369.20" font-size="9.03" text-anchor="middle" stroke="#333" stroke-width="0.12" textLength="28.80" lengthAdjust="spacingAndGlyphs" >Effector</text>
<text x="368.90" y="376.50" font-size="9.03" text-anchor="middle" stroke="#333" stroke-width="0.12" textLength="32.70" lengthAdjust="spacingAndGlyphs" >(CAR NK-</text>
<text x="370.30" y="383.70" font-size="9.03" text-anchor="middle" stroke="#333" stroke-width="0.12" textLength="24.00" lengthAdjust="spacingAndGlyphs" >92) cell</text>
<line x1="336.20" y1="374.00" x2="336.20" y2="387.50" stroke="#222" stroke-width="0.9" />
<path d="M334.4 387 L336.2 392 L338 387 Z" stroke="none" stroke-width="1" fill="#222" />
<circle cx="301.01" cy="412.07" r="1.80" fill="#7a7a7a" />
<circle cx="297.13" cy="403.83" r="2.20" fill="#7a7a7a" />
<circle cx="315.00" cy="414.86" r="1.40" fill="#7a7a7a" />
<circle cx="317.77" cy="411.79" r="1.00" fill="#7a7a7a" />
<circle cx="312.46" cy="416.29" r="0.80" fill="#7a7a7a" />
<ellipse cx="318.04" cy="403.63" rx="4.60" ry="3.60" transform="rotate(11.5 318.04 403.63)" fill="#8c8c8c" stroke="#666" stroke-width="0.60"/>
<ellipse cx="315.11" cy="408.41" rx="4.60" ry="3.60" transform="rotate(51.5 315.11 408.41)" fill="#8c8c8c" stroke="#666" stroke-width="0.60"/>
<ellipse cx="309.79" cy="410.20" rx="4.60" ry="3.60" transform="rotate(91.5 309.79 410.20)" fill="#8c8c8c" stroke="#666" stroke-width="0.60"/>
<ellipse cx="304.57" cy="408.15" rx="4.60" ry="3.60" transform="rotate(131.5 304.57 408.15)" fill="#8c8c8c" stroke="#666" stroke-width="0.60"/>
<ellipse cx="301.89" cy="403.22" rx="4.60" ry="3.60" transform="rotate(171.5 301.89 403.22)" fill="#8c8c8c" stroke="#666" stroke-width="0.60"/>
<ellipse cx="303.01" cy="397.72" rx="4.60" ry="3.60" transform="rotate(211.5 303.01 397.72)" fill="#8c8c8c" stroke="#666" stroke-width="0.60"/>
<ellipse cx="307.39" cy="394.23" rx="4.60" ry="3.60" transform="rotate(251.5 307.39 394.23)" fill="#8c8c8c" stroke="#666" stroke-width="0.60"/>
<ellipse cx="313.00" cy="394.37" rx="4.60" ry="3.60" transform="rotate(291.5 313.00 394.37)" fill="#8c8c8c" stroke="#666" stroke-width="0.60"/>
<ellipse cx="317.20" cy="398.08" rx="4.60" ry="3.60" transform="rotate(331.5 317.20 398.08)" fill="#8c8c8c" stroke="#666" stroke-width="0.60"/>
<circle cx="310.00" cy="402.00" r="7.80" fill="#8c8c8c" />
<circle cx="302.85" cy="404.20" r="0.50" fill="#5a5a5a" />
<circle cx="315.98" cy="398.92" r="0.50" fill="#5a5a5a" />
<circle cx="302.31" cy="401.62" r="0.50" fill="#5a5a5a" />
<circle cx="312.83" cy="408.51" r="0.50" fill="#5a5a5a" />
<circle cx="303.60" cy="395.19" r="0.50" fill="#5a5a5a" />
<circle cx="314.51" cy="405.03" r="0.50" fill="#5a5a5a" />
<circle cx="317.98" cy="407.11" r="0.50" fill="#5a5a5a" />
<circle cx="308.84" cy="398.87" r="0.50" fill="#5a5a5a" />
<circle cx="320.65" cy="400.80" r="0.50" fill="#5a5a5a" />
<circle cx="305.50" cy="395.48" r="0.50" fill="#5a5a5a" />
<circle cx="311.71" cy="404.61" r="0.50" fill="#5a5a5a" />
<circle cx="306.58" cy="401.38" r="0.50" fill="#5a5a5a" />
<circle cx="319.31" cy="403.89" r="1.60" fill="#a5a5a5" />
<circle cx="315.92" cy="409.43" r="1.60" fill="#a5a5a5" />
<circle cx="309.76" cy="411.50" r="1.60" fill="#a5a5a5" />
<circle cx="303.71" cy="409.12" r="1.60" fill="#a5a5a5" />
<circle cx="300.61" cy="403.41" r="1.60" fill="#a5a5a5" />
<circle cx="301.90" cy="397.04" r="1.60" fill="#a5a5a5" />
<circle cx="306.98" cy="392.99" r="1.60" fill="#a5a5a5" />
<circle cx="313.48" cy="393.16" r="1.60" fill="#a5a5a5" />
<circle cx="318.35" cy="397.46" r="1.60" fill="#a5a5a5" />
<circle cx="311.00" cy="401.70" r="4.40" fill="#4f4f4f" />
<circle cx="311.00" cy="401.70" r="2.80" fill="#3a3a3a" />
<circle cx="363.00" cy="400.80" r="13.80" fill="#f39486" />
<circle cx="361.50" cy="400.80" r="8.56" fill="#ea7a68" />
<text x="311.20" y="422.80" font-size="9.03" text-anchor="middle" stroke="#333" stroke-width="0.12" textLength="20.80" lengthAdjust="spacingAndGlyphs" >Death</text>
<text x="311.80" y="429.80" font-size="9.03" text-anchor="middle" stroke="#333" stroke-width="0.12" textLength="24.40" lengthAdjust="spacingAndGlyphs" >of Ag<tspan dy="-3" font-size="6.6">+</tspan></text>
<text x="358.50" y="422.80" font-size="9.03" text-anchor="middle" stroke="#333" stroke-width="0.12" textLength="39.00" lengthAdjust="spacingAndGlyphs" >Target cells</text>
<line x1="430.80" y1="276.70" x2="440.20" y2="276.70" stroke="#e0137f" stroke-width="1.1" />
<text x="443.80" y="279.50" font-size="8.4" stroke="#333" stroke-width="0.12" textLength="50.50" lengthAdjust="spacingAndGlyphs" >CD3<tspan font-style="italic">ζtrunc</tspan>CAR</text>
<line x1="430.80" y1="289.40" x2="440.20" y2="289.40" stroke="#7a5232" stroke-width="1.1" />
<text x="443.80" y="291.90" font-size="8.4" stroke="#333" stroke-width="0.12" textLength="39.60" lengthAdjust="spacingAndGlyphs" ><tspan font-style="italic">AAVS1</tspan> CAR</text>
<line x1="430.80" y1="301.90" x2="440.20" y2="301.90" stroke="#5cb85c" stroke-width="1.1" />
<text x="443.80" y="304.20" font-size="8.4" stroke="#333" stroke-width="0.12" textLength="24.50" lengthAdjust="spacingAndGlyphs" >mock-E<tspan dy="-3" font-size="5">+</tspan></text>
<line x1="429.90" y1="312.80" x2="429.90" y2="399.20" stroke="#2a2a2a" stroke-width="1.1" />
<line x1="427.40" y1="399.20" x2="429.90" y2="399.20" stroke="#2a2a2a" stroke-width="0.9900000000000001" />
<text x="427.00" y="402.21" font-size="9.03" text-anchor="end" stroke="#333" stroke-width="0.12" textLength="4.78" lengthAdjust="spacingAndGlyphs" >0</text>
<line x1="427.40" y1="382.44" x2="429.90" y2="382.44" stroke="#2a2a2a" stroke-width="0.9900000000000001" />
<text x="427.00" y="385.45" font-size="9.03" text-anchor="end" stroke="#333" stroke-width="0.12" textLength="9.56" lengthAdjust="spacingAndGlyphs" >20</text>
<line x1="427.40" y1="365.68" x2="429.90" y2="365.68" stroke="#2a2a2a" stroke-width="0.9900000000000001" />
<text x="427.00" y="368.69" font-size="9.03" text-anchor="end" stroke="#333" stroke-width="0.12" textLength="9.56" lengthAdjust="spacingAndGlyphs" >40</text>
<line x1="427.40" y1="348.92" x2="429.90" y2="348.92" stroke="#2a2a2a" stroke-width="0.9900000000000001" />
<text x="427.00" y="351.93" font-size="9.03" text-anchor="end" stroke="#333" stroke-width="0.12" textLength="9.56" lengthAdjust="spacingAndGlyphs" >60</text>
<line x1="427.40" y1="332.16" x2="429.90" y2="332.16" stroke="#2a2a2a" stroke-width="0.9900000000000001" />
<text x="427.00" y="335.17" font-size="9.03" text-anchor="end" stroke="#333" stroke-width="0.12" textLength="9.56" lengthAdjust="spacingAndGlyphs" >80</text>
<line x1="427.40" y1="315.40" x2="429.90" y2="315.40" stroke="#2a2a2a" stroke-width="0.9900000000000001" />
<text x="427.00" y="318.41" font-size="9.03" text-anchor="end" stroke="#333" stroke-width="0.12" textLength="14.35" lengthAdjust="spacingAndGlyphs" >100</text>
<line x1="429.90" y1="399.20" x2="498.40" y2="399.20" stroke="#2a2a2a" stroke-width="1.2" />
<line x1="433.90" y1="399.20" x2="433.90" y2="401.60" stroke="#2a2a2a" stroke-width="0.9" />
<line x1="443.43" y1="399.20" x2="443.43" y2="401.60" stroke="#2a2a2a" stroke-width="0.9" />
<line x1="452.96" y1="399.20" x2="452.96" y2="401.60" stroke="#2a2a2a" stroke-width="0.9" />
<line x1="462.49" y1="399.20" x2="462.49" y2="401.60" stroke="#2a2a2a" stroke-width="0.9" />
<line x1="472.02" y1="399.20" x2="472.02" y2="401.60" stroke="#2a2a2a" stroke-width="0.9" />
<line x1="481.55" y1="399.20" x2="481.55" y2="401.60" stroke="#2a2a2a" stroke-width="0.9" />
<line x1="491.08" y1="399.20" x2="491.08" y2="401.60" stroke="#2a2a2a" stroke-width="0.9" />
<line x1="433.90" y1="399.20" x2="433.90" y2="396.69" stroke="#5cb85c" stroke-width="0.8" />
<line x1="432.60" y1="399.20" x2="435.20" y2="399.20" stroke="#5cb85c" stroke-width="0.8" />
<line x1="432.60" y1="396.69" x2="435.20" y2="396.69" stroke="#5cb85c" stroke-width="0.8" />
<line x1="443.43" y1="399.20" x2="443.43" y2="396.69" stroke="#5cb85c" stroke-width="0.8" />
<line x1="442.13" y1="399.20" x2="444.73" y2="399.20" stroke="#5cb85c" stroke-width="0.8" />
<line x1="442.13" y1="396.69" x2="444.73" y2="396.69" stroke="#5cb85c" stroke-width="0.8" />
<line x1="452.96" y1="399.20" x2="452.96" y2="396.69" stroke="#5cb85c" stroke-width="0.8" />
<line x1="451.66" y1="399.20" x2="454.26" y2="399.20" stroke="#5cb85c" stroke-width="0.8" />
<line x1="451.66" y1="396.69" x2="454.26" y2="396.69" stroke="#5cb85c" stroke-width="0.8" />
<line x1="462.49" y1="399.20" x2="462.49" y2="392.50" stroke="#5cb85c" stroke-width="0.8" />
<line x1="461.19" y1="399.20" x2="463.79" y2="399.20" stroke="#5cb85c" stroke-width="0.8" />
<line x1="461.19" y1="392.50" x2="463.79" y2="392.50" stroke="#5cb85c" stroke-width="0.8" />
<line x1="472.02" y1="399.20" x2="472.02" y2="389.98" stroke="#5cb85c" stroke-width="0.8" />
<line x1="470.72" y1="399.20" x2="473.32" y2="399.20" stroke="#5cb85c" stroke-width="0.8" />
<line x1="470.72" y1="389.98" x2="473.32" y2="389.98" stroke="#5cb85c" stroke-width="0.8" />
<line x1="481.55" y1="395.01" x2="481.55" y2="388.31" stroke="#5cb85c" stroke-width="0.8" />
<line x1="480.25" y1="395.01" x2="482.85" y2="395.01" stroke="#5cb85c" stroke-width="0.8" />
<line x1="480.25" y1="388.31" x2="482.85" y2="388.31" stroke="#5cb85c" stroke-width="0.8" />
<line x1="491.08" y1="392.50" x2="491.08" y2="382.44" stroke="#5cb85c" stroke-width="0.8" />
<line x1="489.78" y1="392.50" x2="492.38" y2="392.50" stroke="#5cb85c" stroke-width="0.8" />
<line x1="489.78" y1="382.44" x2="492.38" y2="382.44" stroke="#5cb85c" stroke-width="0.8" />
<path d="M433.90 398.36 L443.43 398.36 L452.96 398.36 L462.49 396.69 L472.02 394.17 L481.55 391.66 L491.08 388.31" stroke="#5cb85c" stroke-width="1.1" fill="none" stroke-linejoin="round"/>
<line x1="433.90" y1="391.66" x2="433.90" y2="386.63" stroke="#7a5232" stroke-width="0.8" />
<line x1="432.60" y1="391.66" x2="435.20" y2="391.66" stroke="#7a5232" stroke-width="0.8" />
<line x1="432.60" y1="386.63" x2="435.20" y2="386.63" stroke="#7a5232" stroke-width="0.8" />
<line x1="443.43" y1="387.47" x2="443.43" y2="379.93" stroke="#7a5232" stroke-width="0.8" />
<line x1="442.13" y1="387.47" x2="444.73" y2="387.47" stroke="#7a5232" stroke-width="0.8" />
<line x1="442.13" y1="379.93" x2="444.73" y2="379.93" stroke="#7a5232" stroke-width="0.8" />
<line x1="452.96" y1="382.44" x2="452.96" y2="376.57" stroke="#7a5232" stroke-width="0.8" />
<line x1="451.66" y1="382.44" x2="454.26" y2="382.44" stroke="#7a5232" stroke-width="0.8" />
<line x1="451.66" y1="376.57" x2="454.26" y2="376.57" stroke="#7a5232" stroke-width="0.8" />
<line x1="462.49" y1="370.71" x2="462.49" y2="364.84" stroke="#7a5232" stroke-width="0.8" />
<line x1="461.19" y1="370.71" x2="463.79" y2="370.71" stroke="#7a5232" stroke-width="0.8" />
<line x1="461.19" y1="364.84" x2="463.79" y2="364.84" stroke="#7a5232" stroke-width="0.8" />
<line x1="472.02" y1="365.68" x2="472.02" y2="358.98" stroke="#7a5232" stroke-width="0.8" />
<line x1="470.72" y1="365.68" x2="473.32" y2="365.68" stroke="#7a5232" stroke-width="0.8" />
<line x1="470.72" y1="358.98" x2="473.32" y2="358.98" stroke="#7a5232" stroke-width="0.8" />
<line x1="481.55" y1="348.08" x2="481.55" y2="346.41" stroke="#7a5232" stroke-width="0.8" />
<line x1="480.25" y1="348.08" x2="482.85" y2="348.08" stroke="#7a5232" stroke-width="0.8" />
<line x1="480.25" y1="346.41" x2="482.85" y2="346.41" stroke="#7a5232" stroke-width="0.8" />
<line x1="491.08" y1="343.89" x2="491.08" y2="339.70" stroke="#7a5232" stroke-width="0.8" />
<line x1="489.78" y1="343.89" x2="492.38" y2="343.89" stroke="#7a5232" stroke-width="0.8" />
<line x1="489.78" y1="339.70" x2="492.38" y2="339.70" stroke="#7a5232" stroke-width="0.8" />
<path d="M433.90 389.14 L443.43 384.12 L452.96 379.09 L462.49 368.19 L472.02 362.33 L481.55 347.24 L491.08 342.22" stroke="#7a5232" stroke-width="1.1" fill="none" stroke-linejoin="round"/>
<line x1="433.90" y1="384.12" x2="433.90" y2="380.76" stroke="#e0137f" stroke-width="0.8" />
<line x1="432.60" y1="384.12" x2="435.20" y2="384.12" stroke="#e0137f" stroke-width="0.8" />
<line x1="432.60" y1="380.76" x2="435.20" y2="380.76" stroke="#e0137f" stroke-width="0.8" />
<line x1="443.43" y1="372.38" x2="443.43" y2="369.03" stroke="#e0137f" stroke-width="0.8" />
<line x1="442.13" y1="372.38" x2="444.73" y2="372.38" stroke="#e0137f" stroke-width="0.8" />
<line x1="442.13" y1="369.03" x2="444.73" y2="369.03" stroke="#e0137f" stroke-width="0.8" />
<line x1="452.96" y1="359.81" x2="452.96" y2="355.62" stroke="#e0137f" stroke-width="0.8" />
<line x1="451.66" y1="359.81" x2="454.26" y2="359.81" stroke="#e0137f" stroke-width="0.8" />
<line x1="451.66" y1="355.62" x2="454.26" y2="355.62" stroke="#e0137f" stroke-width="0.8" />
<line x1="462.49" y1="348.08" x2="462.49" y2="342.22" stroke="#e0137f" stroke-width="0.8" />
<line x1="461.19" y1="348.08" x2="463.79" y2="348.08" stroke="#e0137f" stroke-width="0.8" />
<line x1="461.19" y1="342.22" x2="463.79" y2="342.22" stroke="#e0137f" stroke-width="0.8" />
<line x1="472.02" y1="335.51" x2="472.02" y2="332.16" stroke="#e0137f" stroke-width="0.8" />
<line x1="470.72" y1="335.51" x2="473.32" y2="335.51" stroke="#e0137f" stroke-width="0.8" />
<line x1="470.72" y1="332.16" x2="473.32" y2="332.16" stroke="#e0137f" stroke-width="0.8" />
<line x1="481.55" y1="330.48" x2="481.55" y2="327.13" stroke="#e0137f" stroke-width="0.8" />
<line x1="480.25" y1="330.48" x2="482.85" y2="330.48" stroke="#e0137f" stroke-width="0.8" />
<line x1="480.25" y1="327.13" x2="482.85" y2="327.13" stroke="#e0137f" stroke-width="0.8" />
<line x1="491.08" y1="332.16" x2="491.08" y2="326.29" stroke="#e0137f" stroke-width="0.8" />
<line x1="489.78" y1="332.16" x2="492.38" y2="332.16" stroke="#e0137f" stroke-width="0.8" />
<line x1="489.78" y1="326.29" x2="492.38" y2="326.29" stroke="#e0137f" stroke-width="0.8" />
<path d="M433.90 382.44 L443.43 370.71 L452.96 357.30 L462.49 345.57 L472.02 333.84 L481.55 328.81 L491.08 328.81" stroke="#e0137f" stroke-width="1.3" fill="none" stroke-linejoin="round"/>
<path d="M494.9 328 H499.7 V341 H494.9" stroke="#333" stroke-width="0.9" fill="none" />
<path d="M500.7 327.7 H507.3 V387.3 H494.6" stroke="#333" stroke-width="0.9" fill="none" />
<text x="502.00" y="335.70" font-size="10.08" text-anchor="middle" stroke="#333" stroke-width="0.12" textLength="10.00" lengthAdjust="spacingAndGlyphs" transform="rotate(90 502.00 335.70)" >***</text>
<text x="509.50" y="358.40" font-size="10.08" text-anchor="middle" stroke="#333" stroke-width="0.12" textLength="10.00" lengthAdjust="spacingAndGlyphs" transform="rotate(90 509.50 358.40)" >***</text>
<text x="403.80" y="354.00" font-size="9.24" text-anchor="middle" stroke="#333" stroke-width="0.12" textLength="61.00" lengthAdjust="spacingAndGlyphs" transform="rotate(-90 403.80 354.00)" >Rel. cytotoxicity %</text>
<text x="437.20" y="405.50" font-size="9.45" text-anchor="end" stroke="#333" stroke-width="0.12" textLength="23.00" lengthAdjust="spacingAndGlyphs" transform="rotate(-90 437.20 405.50)" >1/8:1:1</text>
<text x="446.73" y="405.50" font-size="9.45" text-anchor="end" stroke="#333" stroke-width="0.12" textLength="23.00" lengthAdjust="spacingAndGlyphs" transform="rotate(-90 446.73 405.50)" >1/4:1:1</text>
<text x="456.26" y="405.50" font-size="9.45" text-anchor="end" stroke="#333" stroke-width="0.12" textLength="23.00" lengthAdjust="spacingAndGlyphs" transform="rotate(-90 456.26 405.50)" >1/2:1:1</text>
<text x="465.79" y="405.50" font-size="9.45" text-anchor="end" stroke="#333" stroke-width="0.12" textLength="16.40" lengthAdjust="spacingAndGlyphs" transform="rotate(-90 465.79 405.50)" >1:1:1</text>
<text x="475.32" y="405.50" font-size="9.45" text-anchor="end" stroke="#333" stroke-width="0.12" textLength="16.40" lengthAdjust="spacingAndGlyphs" transform="rotate(-90 475.32 405.50)" >2:1:1</text>
<text x="484.85" y="405.50" font-size="9.45" text-anchor="end" stroke="#333" stroke-width="0.12" textLength="16.40" lengthAdjust="spacingAndGlyphs" transform="rotate(-90 484.85 405.50)" >4:1:1</text>
<text x="494.38" y="405.50" font-size="9.45" text-anchor="end" stroke="#333" stroke-width="0.12" textLength="16.40" lengthAdjust="spacingAndGlyphs" transform="rotate(-90 494.38 405.50)" >8:1:1</text>
<text x="463.70" y="439.80" font-size="8.82" text-anchor="middle" stroke="#333" stroke-width="0.12" textLength="38.40" lengthAdjust="spacingAndGlyphs" >E:T:C cell ratio</text>
<text x="7.20" y="479.20" font-size="11" fill="#111" font-weight="bold" >F</text>
<circle cx="38.30" cy="501.50" r="26.00" fill="url(#glowP)" />
<circle cx="38.30" cy="501.50" r="18.20" fill="#b8b1e4" stroke="#8078c0" stroke-width="1"/>
<ellipse cx="39.8" cy="504.4" rx="11.4" ry="10.4" transform="rotate(-25 39.8 504.4)" fill="#9d8fd1"/>
<circle cx="28.12" cy="490.50" r="0.60" fill="#8a80b8" />
<circle cx="32.68" cy="487.48" r="0.60" fill="#8a80b8" />
<circle cx="42.59" cy="488.93" r="0.60" fill="#8a80b8" />
<circle cx="22.78" cy="498.30" r="0.60" fill="#8a80b8" />
<circle cx="29.38" cy="490.65" r="0.60" fill="#8a80b8" />
<circle cx="52.20" cy="498.87" r="0.60" fill="#8a80b8" />
<circle cx="49.75" cy="492.92" r="0.60" fill="#8a80b8" />
<circle cx="43.15" cy="488.87" r="0.60" fill="#8a80b8" />
<circle cx="43.81" cy="486.82" r="0.60" fill="#8a80b8" />
<circle cx="39.00" cy="486.11" r="0.60" fill="#8a80b8" />
<circle cx="44.15" cy="489.63" r="0.60" fill="#8a80b8" />
<circle cx="47.85" cy="490.29" r="0.60" fill="#8a80b8" />
<circle cx="31.02" cy="490.22" r="0.60" fill="#8a80b8" />
<circle cx="50.39" cy="493.92" r="0.60" fill="#8a80b8" />
<text x="38.30" y="541.70" font-size="10.08" text-anchor="middle" stroke="#333" stroke-width="0.12" textLength="27.50" lengthAdjust="spacingAndGlyphs" >NK-92</text>
<text x="38.20" y="552.50" font-size="10.08" text-anchor="middle" stroke="#333" stroke-width="0.12" textLength="32.40" lengthAdjust="spacingAndGlyphs" >cell line</text>
<rect x="26.6" y="559.7" width="5.2" height="14.6" rx="2.6" fill="#c8102e"/>
<rect x="34.3" y="559.7" width="5.2" height="14.6" rx="2.6" fill="#c8102e"/>
<path d="M29.5 559 C29.5 555.5 36.8 555.5 36.8 559 M36.8 573.6 C36.8 576.5 31.5 575.5 30 577" stroke="#c8102e" stroke-width="0.5" fill="none" />
<rect x="27.20" y="580.30" width="4.40" height="28.40" fill="#c9c9c9" rx="1"/>
<rect x="27.20" y="612.00" width="4.40" height="12.00" fill="#c9c9c9" rx="1"/>
<rect x="22.30" y="594.00" width="19.70" height="2.40" fill="#cfe0ee" />
<text x="52.60" y="591.00" font-size="9.03" text-anchor="middle" fill="#c42a44" textLength="66.00" lengthAdjust="spacingAndGlyphs" transform="rotate(-90 52.60 591.00)" >CD19.28.z-CAR (2)</text>
<text x="161.00" y="499.00" font-size="10.08" text-anchor="middle" stroke="#333" stroke-width="0.12" textLength="68.70" lengthAdjust="spacingAndGlyphs" >CAR expression</text>
<text x="96.30" y="512.30" font-size="9.24" fill="#86602c" stroke="#86602c" stroke-width="0.12" textLength="41.20" lengthAdjust="spacingAndGlyphs" ><tspan font-style="italic">AAVS1</tspan> CAR</text>
<text x="181.00" y="512.30" font-size="9.24" fill="#e0208f" stroke="#e0208f" stroke-width="0.12" textLength="56.70" lengthAdjust="spacingAndGlyphs" >CD3<tspan font-style="italic">ζtrunc</tspan>CAR</text>
<path d="M74.60 599.60 L74.60 599.60 L75.40 599.60 L76.20 599.60 L77.00 599.60 L77.80 599.60 L78.60 599.60 L79.40 599.60 L80.20 599.60 L81.00 599.60 L81.80 599.60 L82.60 599.60 L83.40 599.60 L84.20 599.60 L85.00 599.60 L85.80 599.60 L86.60 599.60 L87.40 599.60 L88.20 599.59 L89.00 599.59 L89.80 599.58 L90.60 599.55 L91.40 599.52 L92.20 599.46 L93.00 599.35 L93.80 599.19 L94.60 598.94 L95.40 598.57 L96.20 598.04 L97.00 597.13 L97.80 596.23 L98.60 595.18 L99.40 593.51 L100.20 591.13 L101.00 587.33 L101.80 583.68 L102.60 581.48 L103.40 576.90 L104.20 572.10 L105.00 565.39 L105.80 561.76 L106.60 556.83 L107.40 550.85 L108.20 547.50 L109.00 540.96 L109.80 538.04 L110.60 531.90 L111.40 530.17 L112.20 525.95 L113.00 526.03 L113.80 525.38 L114.60 522.17 L115.40 522.33 L116.20 525.35 L117.00 522.01 L117.80 522.74 L118.60 523.07 L119.40 525.19 L120.20 525.77 L121.00 527.35 L121.80 530.54 L122.60 533.81 L123.40 533.96 L124.20 535.82 L125.00 541.83 L125.80 543.04 L126.60 547.19 L127.40 551.12 L128.20 553.74 L129.00 557.79 L129.80 560.85 L130.60 565.71 L131.40 569.13 L132.20 571.97 L133.00 576.57 L133.80 577.18 L134.60 582.85 L135.40 583.08 L136.20 587.19 L137.00 589.08 L137.80 589.43 L138.60 591.64 L139.40 593.49 L140.20 594.28 L141.00 595.60 L141.80 596.18 L142.60 597.09 L143.40 597.62 L144.20 598.04 L145.00 598.41 L145.80 598.70 L146.60 598.93 L147.40 599.10 L148.20 599.24 L149.00 599.34 L149.80 599.41 L150.60 599.47 L151.40 599.51 L152.20 599.54 L153.00 599.56 L153.80 599.57 L154.60 599.58 L155.40 599.59 L156.20 599.59 L157.00 599.59 L157.80 599.60 L157.80 599.60 Z" fill="#dcdce1" stroke="#bfbfc6" stroke-width="0.6"/>
<path d="M74.60 599.60 L74.60 599.60 L75.10 599.60 L75.60 599.60 L76.10 599.60 L76.60 599.60 L77.10 599.60 L77.60 599.60 L78.10 599.60 L78.60 599.60 L79.10 599.60 L79.60 599.60 L80.10 599.60 L80.60 599.60 L81.10 599.60 L81.60 599.60 L82.10 599.60 L82.60 599.60 L83.10 599.60 L83.60 599.60 L84.10 599.60 L84.60 599.60 L85.10 599.60 L85.60 599.60 L86.10 599.60 L86.60 599.60 L87.10 599.60 L87.60 599.59 L88.10 599.58 L88.60 599.54 L89.10 599.44 L89.60 599.22 L90.10 598.72 L90.60 597.73 L91.10 595.88 L91.60 592.67 L92.10 587.60 L92.60 580.13 L93.10 570.63 L93.60 558.85 L94.10 547.04 L94.60 534.91 L95.10 525.43 L95.60 520.92 L96.10 520.67 L96.60 523.67 L97.10 527.70 L97.60 533.82 L98.10 540.68 L98.60 548.44 L99.10 556.85 L99.60 564.41 L100.10 570.38 L100.60 571.46 L101.10 573.08 L101.60 574.99 L102.10 575.82 L102.60 577.62 L103.10 578.44 L103.60 579.97 L104.10 581.13 L104.60 581.51 L105.10 582.93 L105.60 583.83 L106.10 584.22 L106.60 585.11 L107.10 586.21 L107.60 586.59 L108.10 587.50 L108.60 588.09 L109.10 588.91 L109.60 589.19 L110.10 589.85 L110.60 590.28 L111.10 590.80 L111.60 591.47 L112.10 591.89 L112.60 592.37 L113.10 592.76 L113.60 593.16 L114.10 593.44 L114.60 593.71 L115.10 594.16 L115.60 594.31 L116.10 594.66 L116.60 594.94 L117.10 595.10 L117.60 595.40 L118.10 595.65 L118.60 595.84 L119.10 596.01 L119.60 596.29 L120.10 596.35 L120.60 596.64 L121.10 596.72 L121.60 596.87 L122.10 597.10 L122.60 597.16 L123.10 597.33 L123.60 597.43 L124.10 597.60 L124.60 597.67 L125.10 597.77 L125.60 597.87 L126.10 597.96 L126.60 598.05 L127.10 598.14 L127.60 598.22 L128.10 598.29 L128.60 598.36 L129.10 598.43 L129.60 598.49 L130.10 598.55 L130.60 598.61 L131.10 598.66 L131.60 598.71 L132.10 598.76 L132.60 598.81 L133.10 598.85 L133.60 598.89 L134.10 598.93 L134.60 598.96 L135.10 599.00 L135.60 599.03 L136.10 599.06 L136.60 599.09 L137.10 599.12 L137.60 599.14 L138.10 599.17 L138.60 599.19 L139.10 599.21 L139.60 599.24 L140.10 599.25 L140.60 599.27 L141.10 599.29 L141.60 599.31 L142.10 599.32 L142.60 599.34 L143.10 599.35 L143.60 599.37 L144.10 599.38 L144.60 599.39 L145.10 599.40 L145.60 599.41 L146.10 599.42 L146.60 599.43 L147.10 599.44 L147.60 599.45 L148.10 599.46 L148.60 599.47 L149.10 599.47 L149.60 599.48 L150.10 599.49 L150.60 599.49 L151.10 599.50 L151.60 599.50 L152.10 599.51 L152.60 599.51 L153.10 599.52 L153.60 599.52 L154.10 599.53 L154.60 599.53 L155.10 599.53 L155.60 599.54 L156.10 599.54 L156.60 599.54 L157.10 599.55 L157.60 599.55 L158.10 599.55 L158.10 599.60 Z" fill="#6f6f7a" fill-opacity="0.92" stroke="#4a4a55" stroke-width="0.5"/>
<rect x="74.60" y="515.6" width="83.7" height="84.00" fill="none" stroke="#555" stroke-width="0.6"/>
<line x1="74.60" y1="515.60" x2="74.60" y2="599.60" stroke="#222" stroke-width="1.1" />
<line x1="74.60" y1="599.60" x2="158.30" y2="599.60" stroke="#1a1a1a" stroke-width="1.5" />
<line x1="72.80" y1="599.60" x2="74.60" y2="599.60" stroke="#333" stroke-width="0.5" />
<line x1="73.60" y1="595.60" x2="74.60" y2="595.60" stroke="#333" stroke-width="0.5" />
<line x1="73.60" y1="591.60" x2="74.60" y2="591.60" stroke="#333" stroke-width="0.5" />
<line x1="73.60" y1="587.60" x2="74.60" y2="587.60" stroke="#333" stroke-width="0.5" />
<line x1="72.80" y1="583.60" x2="74.60" y2="583.60" stroke="#333" stroke-width="0.5" />
<line x1="73.60" y1="579.60" x2="74.60" y2="579.60" stroke="#333" stroke-width="0.5" />
<line x1="73.60" y1="575.60" x2="74.60" y2="575.60" stroke="#333" stroke-width="0.5" />
<line x1="73.60" y1="571.60" x2="74.60" y2="571.60" stroke="#333" stroke-width="0.5" />
<line x1="72.80" y1="567.60" x2="74.60" y2="567.60" stroke="#333" stroke-width="0.5" />
<line x1="73.60" y1="563.60" x2="74.60" y2="563.60" stroke="#333" stroke-width="0.5" />
<line x1="73.60" y1="559.60" x2="74.60" y2="559.60" stroke="#333" stroke-width="0.5" />
<line x1="73.60" y1="555.60" x2="74.60" y2="555.60" stroke="#333" stroke-width="0.5" />
<line x1="72.80" y1="551.60" x2="74.60" y2="551.60" stroke="#333" stroke-width="0.5" />
<line x1="73.60" y1="547.60" x2="74.60" y2="547.60" stroke="#333" stroke-width="0.5" />
<line x1="73.60" y1="543.60" x2="74.60" y2="543.60" stroke="#333" stroke-width="0.5" />
<line x1="73.60" y1="539.60" x2="74.60" y2="539.60" stroke="#333" stroke-width="0.5" />
<line x1="72.80" y1="535.60" x2="74.60" y2="535.60" stroke="#333" stroke-width="0.5" />
<line x1="73.60" y1="531.60" x2="74.60" y2="531.60" stroke="#333" stroke-width="0.5" />
<line x1="73.60" y1="527.60" x2="74.60" y2="527.60" stroke="#333" stroke-width="0.5" />
<line x1="73.60" y1="523.60" x2="74.60" y2="523.60" stroke="#333" stroke-width="0.5" />
<line x1="72.80" y1="519.60" x2="74.60" y2="519.60" stroke="#333" stroke-width="0.5" />
<line x1="74.60" y1="599.60" x2="74.60" y2="601.60" stroke="#333" stroke-width="0.5" />
<line x1="76.60" y1="599.60" x2="76.60" y2="600.80" stroke="#333" stroke-width="0.5" />
<line x1="78.60" y1="599.60" x2="78.60" y2="600.80" stroke="#333" stroke-width="0.5" />
<line x1="80.60" y1="599.60" x2="80.60" y2="600.80" stroke="#333" stroke-width="0.5" />
<line x1="82.60" y1="599.60" x2="82.60" y2="600.80" stroke="#333" stroke-width="0.5" />
<line x1="84.60" y1="599.60" x2="84.60" y2="601.60" stroke="#333" stroke-width="0.5" />
<line x1="86.60" y1="599.60" x2="86.60" y2="600.80" stroke="#333" stroke-width="0.5" />
<line x1="88.60" y1="599.60" x2="88.60" y2="600.80" stroke="#333" stroke-width="0.5" />
<line x1="90.60" y1="599.60" x2="90.60" y2="600.80" stroke="#333" stroke-width="0.5" />
<line x1="92.60" y1="599.60" x2="92.60" y2="600.80" stroke="#333" stroke-width="0.5" />
<line x1="94.60" y1="599.60" x2="94.60" y2="601.60" stroke="#333" stroke-width="0.5" />
<line x1="96.60" y1="599.60" x2="96.60" y2="600.80" stroke="#333" stroke-width="0.5" />
<line x1="98.60" y1="599.60" x2="98.60" y2="600.80" stroke="#333" stroke-width="0.5" />
<line x1="100.60" y1="599.60" x2="100.60" y2="600.80" stroke="#333" stroke-width="0.5" />
<line x1="102.60" y1="599.60" x2="102.60" y2="600.80" stroke="#333" stroke-width="0.5" />
<line x1="104.60" y1="599.60" x2="104.60" y2="601.60" stroke="#333" stroke-width="0.5" />
<line x1="106.60" y1="599.60" x2="106.60" y2="600.80" stroke="#333" stroke-width="0.5" />
<line x1="108.60" y1="599.60" x2="108.60" y2="600.80" stroke="#333" stroke-width="0.5" />
<line x1="110.60" y1="599.60" x2="110.60" y2="600.80" stroke="#333" stroke-width="0.5" />
<line x1="112.60" y1="599.60" x2="112.60" y2="600.80" stroke="#333" stroke-width="0.5" />
<line x1="114.60" y1="599.60" x2="114.60" y2="601.60" stroke="#333" stroke-width="0.5" />
<line x1="116.60" y1="599.60" x2="116.60" y2="600.80" stroke="#333" stroke-width="0.5" />
<line x1="118.60" y1="599.60" x2="118.60" y2="600.80" stroke="#333" stroke-width="0.5" />
<line x1="120.60" y1="599.60" x2="120.60" y2="600.80" stroke="#333" stroke-width="0.5" />
<line x1="122.60" y1="599.60" x2="122.60" y2="600.80" stroke="#333" stroke-width="0.5" />
<line x1="124.60" y1="599.60" x2="124.60" y2="601.60" stroke="#333" stroke-width="0.5" />
<line x1="126.60" y1="599.60" x2="126.60" y2="600.80" stroke="#333" stroke-width="0.5" />
<line x1="128.60" y1="599.60" x2="128.60" y2="600.80" stroke="#333" stroke-width="0.5" />
<line x1="130.60" y1="599.60" x2="130.60" y2="600.80" stroke="#333" stroke-width="0.5" />
<line x1="132.60" y1="599.60" x2="132.60" y2="600.80" stroke="#333" stroke-width="0.5" />
<line x1="134.60" y1="599.60" x2="134.60" y2="601.60" stroke="#333" stroke-width="0.5" />
<line x1="136.60" y1="599.60" x2="136.60" y2="600.80" stroke="#333" stroke-width="0.5" />
<line x1="138.60" y1="599.60" x2="138.60" y2="600.80" stroke="#333" stroke-width="0.5" />
<line x1="140.60" y1="599.60" x2="140.60" y2="600.80" stroke="#333" stroke-width="0.5" />
<line x1="142.60" y1="599.60" x2="142.60" y2="600.80" stroke="#333" stroke-width="0.5" />
<line x1="144.60" y1="599.60" x2="144.60" y2="601.60" stroke="#333" stroke-width="0.5" />
<line x1="146.60" y1="599.60" x2="146.60" y2="600.80" stroke="#333" stroke-width="0.5" />
<line x1="148.60" y1="599.60" x2="148.60" y2="600.80" stroke="#333" stroke-width="0.5" />
<line x1="150.60" y1="599.60" x2="150.60" y2="600.80" stroke="#333" stroke-width="0.5" />
<line x1="152.60" y1="599.60" x2="152.60" y2="600.80" stroke="#333" stroke-width="0.5" />
<line x1="154.60" y1="599.60" x2="154.60" y2="601.60" stroke="#333" stroke-width="0.5" />
<line x1="156.60" y1="599.60" x2="156.60" y2="600.80" stroke="#333" stroke-width="0.5" />
<line x1="111.20" y1="588.00" x2="151.50" y2="588.00" stroke="#444" stroke-width="0.9" />
<line x1="111.20" y1="586.30" x2="111.20" y2="589.70" stroke="#444" stroke-width="0.8" />
<line x1="151.50" y1="586.30" x2="151.50" y2="589.70" stroke="#444" stroke-width="0.8" />
<text x="155.30" y="524.50" font-size="9.03" text-anchor="end" stroke="#333" stroke-width="0.12" textLength="24.00" lengthAdjust="spacingAndGlyphs" >65,6 %</text>
<path d="M167.50 599.60 L167.50 599.60 L168.30 599.60 L169.10 599.60 L169.90 599.60 L170.70 599.60 L171.50 599.60 L172.30 599.60 L173.10 599.60 L173.90 599.60 L174.70 599.60 L175.50 599.60 L176.30 599.60 L177.10 599.60 L177.90 599.60 L178.70 599.60 L179.50 599.60 L180.30 599.60 L181.10 599.60 L181.90 599.60 L182.70 599.60 L183.50 599.60 L184.30 599.60 L185.10 599.60 L185.90 599.60 L186.70 599.60 L187.50 599.60 L188.30 599.60 L189.10 599.60 L189.90 599.60 L190.70 599.60 L191.50 599.60 L192.30 599.60 L193.10 599.60 L193.90 599.60 L194.70 599.60 L195.50 599.60 L196.30 599.60 L197.10 599.60 L197.90 599.60 L198.70 599.60 L199.50 599.59 L200.30 599.58 L201.10 599.53 L201.90 599.38 L202.70 598.99 L203.50 598.09 L204.30 596.34 L205.10 593.05 L205.90 586.57 L206.70 575.47 L207.50 563.80 L208.30 549.69 L209.10 535.52 L209.90 526.07 L210.70 520.16 L211.50 522.84 L212.30 528.85 L213.10 536.13 L213.90 549.68 L214.70 558.47 L215.50 571.02 L216.30 579.21 L217.10 584.88 L217.90 591.47 L218.70 594.34 L219.50 596.76 L220.30 597.44 L221.10 597.61 L221.90 597.91 L222.70 598.16 L223.50 598.37 L224.30 598.55 L225.10 598.71 L225.90 598.84 L226.70 598.95 L227.50 599.05 L228.30 599.13 L229.10 599.20 L229.90 599.26 L230.70 599.31 L231.50 599.35 L232.30 599.39 L233.10 599.42 L233.90 599.45 L234.70 599.47 L235.50 599.49 L236.30 599.50 L237.10 599.52 L237.90 599.53 L238.70 599.54 L239.50 599.55 L240.30 599.56 L241.10 599.56 L241.90 599.57 L242.70 599.57 L243.50 599.58 L244.30 599.58 L245.10 599.58 L245.90 599.59 L246.70 599.59 L247.50 599.59 L248.30 599.59 L249.10 599.59 L249.90 599.59 L250.70 599.59 L250.70 599.60 Z" fill="#dcdce1" stroke="#bfbfc6" stroke-width="0.6"/>
<path d="M167.50 599.60 L167.50 599.60 L168.00 599.60 L168.50 599.60 L169.00 599.60 L169.50 599.60 L170.00 599.60 L170.50 599.60 L171.00 599.60 L171.50 599.60 L172.00 599.60 L172.50 599.60 L173.00 599.60 L173.50 599.60 L174.00 599.60 L174.50 599.60 L175.00 599.60 L175.50 599.60 L176.00 599.60 L176.50 599.60 L177.00 599.60 L177.50 599.60 L178.00 599.60 L178.50 599.60 L179.00 599.60 L179.50 599.60 L180.00 599.60 L180.50 599.60 L181.00 599.60 L181.50 599.59 L182.00 599.57 L182.50 599.53 L183.00 599.41 L183.50 599.14 L184.00 598.57 L184.50 597.44 L185.00 595.34 L185.50 591.81 L186.00 586.24 L186.50 578.54 L187.00 568.29 L187.50 557.09 L188.00 544.21 L188.50 532.43 L189.00 524.32 L189.50 520.39 L190.00 521.61 L190.50 524.10 L191.00 528.95 L191.50 534.92 L192.00 542.18 L192.50 550.48 L193.00 558.26 L193.50 565.84 L194.00 572.32 L194.50 575.85 L195.00 577.96 L195.50 578.96 L196.00 580.88 L196.50 581.83 L197.00 583.38 L197.50 584.57 L198.00 585.11 L198.50 586.46 L199.00 587.36 L199.50 587.85 L200.00 588.71 L200.50 589.70 L201.00 590.13 L201.50 590.93 L202.00 591.48 L202.50 592.18 L203.00 592.49 L203.50 593.04 L204.00 593.43 L204.50 593.87 L205.00 594.39 L205.50 594.74 L206.00 595.11 L206.50 595.42 L207.00 595.72 L207.50 595.95 L208.00 596.16 L208.50 596.48 L209.00 596.61 L209.50 596.86 L210.00 597.05 L210.50 597.18 L211.00 597.37 L211.50 597.54 L212.00 597.67 L212.50 597.80 L213.00 597.93 L213.50 598.04 L214.00 598.15 L214.50 598.25 L215.00 598.34 L215.50 598.43 L216.00 598.51 L216.50 598.58 L217.00 598.65 L217.50 598.72 L218.00 598.78 L218.50 598.84 L219.00 598.89 L219.50 598.94 L220.00 598.98 L220.50 599.03 L221.00 599.07 L221.50 599.10 L222.00 599.14 L222.50 599.17 L223.00 599.20 L223.50 599.23 L224.00 599.25 L224.50 599.28 L225.00 599.30 L225.50 599.32 L226.00 599.34 L226.50 599.36 L227.00 599.37 L227.50 599.39 L228.00 599.40 L228.50 599.42 L229.00 599.43 L229.50 599.44 L230.00 599.45 L230.50 599.46 L231.00 599.47 L231.50 599.48 L232.00 599.49 L232.50 599.50 L233.00 599.50 L233.50 599.51 L234.00 599.52 L234.50 599.52 L235.00 599.53 L235.50 599.53 L236.00 599.54 L236.50 599.54 L237.00 599.55 L237.50 599.55 L238.00 599.55 L238.50 599.56 L239.00 599.56 L239.50 599.56 L240.00 599.56 L240.50 599.57 L241.00 599.57 L241.50 599.57 L242.00 599.57 L242.50 599.58 L243.00 599.58 L243.50 599.58 L244.00 599.58 L244.50 599.58 L245.00 599.58 L245.50 599.58 L246.00 599.58 L246.50 599.59 L247.00 599.59 L247.50 599.59 L248.00 599.59 L248.50 599.59 L249.00 599.59 L249.50 599.59 L250.00 599.59 L250.50 599.59 L251.00 599.59 L251.00 599.60 Z" fill="#6f6f7a" fill-opacity="0.92" stroke="#4a4a55" stroke-width="0.5"/>
<rect x="167.50" y="515.6" width="83.7" height="84.00" fill="none" stroke="#555" stroke-width="0.6"/>
<line x1="167.50" y1="515.60" x2="167.50" y2="599.60" stroke="#222" stroke-width="1.1" />
<line x1="167.50" y1="599.60" x2="251.20" y2="599.60" stroke="#1a1a1a" stroke-width="1.5" />
<line x1="165.70" y1="599.60" x2="167.50" y2="599.60" stroke="#333" stroke-width="0.5" />
<line x1="166.50" y1="595.60" x2="167.50" y2="595.60" stroke="#333" stroke-width="0.5" />
<line x1="166.50" y1="591.60" x2="167.50" y2="591.60" stroke="#333" stroke-width="0.5" />
<line x1="166.50" y1="587.60" x2="167.50" y2="587.60" stroke="#333" stroke-width="0.5" />
<line x1="165.70" y1="583.60" x2="167.50" y2="583.60" stroke="#333" stroke-width="0.5" />
<line x1="166.50" y1="579.60" x2="167.50" y2="579.60" stroke="#333" stroke-width="0.5" />
<line x1="166.50" y1="575.60" x2="167.50" y2="575.60" stroke="#333" stroke-width="0.5" />
<line x1="166.50" y1="571.60" x2="167.50" y2="571.60" stroke="#333" stroke-width="0.5" />
<line x1="165.70" y1="567.60" x2="167.50" y2="567.60" stroke="#333" stroke-width="0.5" />
<line x1="166.50" y1="563.60" x2="167.50" y2="563.60" stroke="#333" stroke-width="0.5" />
<line x1="166.50" y1="559.60" x2="167.50" y2="559.60" stroke="#333" stroke-width="0.5" />
<line x1="166.50" y1="555.60" x2="167.50" y2="555.60" stroke="#333" stroke-width="0.5" />
<line x1="165.70" y1="551.60" x2="167.50" y2="551.60" stroke="#333" stroke-width="0.5" />
<line x1="166.50" y1="547.60" x2="167.50" y2="547.60" stroke="#333" stroke-width="0.5" />
<line x1="166.50" y1="543.60" x2="167.50" y2="543.60" stroke="#333" stroke-width="0.5" />
<line x1="166.50" y1="539.60" x2="167.50" y2="539.60" stroke="#333" stroke-width="0.5" />
<line x1="165.70" y1="535.60" x2="167.50" y2="535.60" stroke="#333" stroke-width="0.5" />
<line x1="166.50" y1="531.60" x2="167.50" y2="531.60" stroke="#333" stroke-width="0.5" />
<line x1="166.50" y1="527.60" x2="167.50" y2="527.60" stroke="#333" stroke-width="0.5" />
<line x1="166.50" y1="523.60" x2="167.50" y2="523.60" stroke="#333" stroke-width="0.5" />
<line x1="165.70" y1="519.60" x2="167.50" y2="519.60" stroke="#333" stroke-width="0.5" />
<line x1="167.50" y1="599.60" x2="167.50" y2="601.60" stroke="#333" stroke-width="0.5" />
<line x1="169.50" y1="599.60" x2="169.50" y2="600.80" stroke="#333" stroke-width="0.5" />
<line x1="171.50" y1="599.60" x2="171.50" y2="600.80" stroke="#333" stroke-width="0.5" />
<line x1="173.50" y1="599.60" x2="173.50" y2="600.80" stroke="#333" stroke-width="0.5" />
<line x1="175.50" y1="599.60" x2="175.50" y2="600.80" stroke="#333" stroke-width="0.5" />
<line x1="177.50" y1="599.60" x2="177.50" y2="601.60" stroke="#333" stroke-width="0.5" />
<line x1="179.50" y1="599.60" x2="179.50" y2="600.80" stroke="#333" stroke-width="0.5" />
<line x1="181.50" y1="599.60" x2="181.50" y2="600.80" stroke="#333" stroke-width="0.5" />
<line x1="183.50" y1="599.60" x2="183.50" y2="600.80" stroke="#333" stroke-width="0.5" />
<line x1="185.50" y1="599.60" x2="185.50" y2="600.80" stroke="#333" stroke-width="0.5" />
<line x1="187.50" y1="599.60" x2="187.50" y2="601.60" stroke="#333" stroke-width="0.5" />
<line x1="189.50" y1="599.60" x2="189.50" y2="600.80" stroke="#333" stroke-width="0.5" />
<line x1="191.50" y1="599.60" x2="191.50" y2="600.80" stroke="#333" stroke-width="0.5" />
<line x1="193.50" y1="599.60" x2="193.50" y2="600.80" stroke="#333" stroke-width="0.5" />
<line x1="195.50" y1="599.60" x2="195.50" y2="600.80" stroke="#333" stroke-width="0.5" />
<line x1="197.50" y1="599.60" x2="197.50" y2="601.60" stroke="#333" stroke-width="0.5" />
<line x1="199.50" y1="599.60" x2="199.50" y2="600.80" stroke="#333" stroke-width="0.5" />
<line x1="201.50" y1="599.60" x2="201.50" y2="600.80" stroke="#333" stroke-width="0.5" />
<line x1="203.50" y1="599.60" x2="203.50" y2="600.80" stroke="#333" stroke-width="0.5" />
<line x1="205.50" y1="599.60" x2="205.50" y2="600.80" stroke="#333" stroke-width="0.5" />
<line x1="207.50" y1="599.60" x2="207.50" y2="601.60" stroke="#333" stroke-width="0.5" />
<line x1="209.50" y1="599.60" x2="209.50" y2="600.80" stroke="#333" stroke-width="0.5" />
<line x1="211.50" y1="599.60" x2="211.50" y2="600.80" stroke="#333" stroke-width="0.5" />
<line x1="213.50" y1="599.60" x2="213.50" y2="600.80" stroke="#333" stroke-width="0.5" />
<line x1="215.50" y1="599.60" x2="215.50" y2="600.80" stroke="#333" stroke-width="0.5" />
<line x1="217.50" y1="599.60" x2="217.50" y2="601.60" stroke="#333" stroke-width="0.5" />
<line x1="219.50" y1="599.60" x2="219.50" y2="600.80" stroke="#333" stroke-width="0.5" />
<line x1="221.50" y1="599.60" x2="221.50" y2="600.80" stroke="#333" stroke-width="0.5" />
<line x1="223.50" y1="599.60" x2="223.50" y2="600.80" stroke="#333" stroke-width="0.5" />
<line x1="225.50" y1="599.60" x2="225.50" y2="600.80" stroke="#333" stroke-width="0.5" />
<line x1="227.50" y1="599.60" x2="227.50" y2="601.60" stroke="#333" stroke-width="0.5" />
<line x1="229.50" y1="599.60" x2="229.50" y2="600.80" stroke="#333" stroke-width="0.5" />
<line x1="231.50" y1="599.60" x2="231.50" y2="600.80" stroke="#333" stroke-width="0.5" />
<line x1="233.50" y1="599.60" x2="233.50" y2="600.80" stroke="#333" stroke-width="0.5" />
<line x1="235.50" y1="599.60" x2="235.50" y2="600.80" stroke="#333" stroke-width="0.5" />
<line x1="237.50" y1="599.60" x2="237.50" y2="601.60" stroke="#333" stroke-width="0.5" />
<line x1="239.50" y1="599.60" x2="239.50" y2="600.80" stroke="#333" stroke-width="0.5" />
<line x1="241.50" y1="599.60" x2="241.50" y2="600.80" stroke="#333" stroke-width="0.5" />
<line x1="243.50" y1="599.60" x2="243.50" y2="600.80" stroke="#333" stroke-width="0.5" />
<line x1="245.50" y1="599.60" x2="245.50" y2="600.80" stroke="#333" stroke-width="0.5" />
<line x1="247.50" y1="599.60" x2="247.50" y2="601.60" stroke="#333" stroke-width="0.5" />
<line x1="249.50" y1="599.60" x2="249.50" y2="600.80" stroke="#333" stroke-width="0.5" />
<line x1="204.60" y1="588.00" x2="245.40" y2="588.00" stroke="#444" stroke-width="0.9" />
<line x1="204.60" y1="586.30" x2="204.60" y2="589.70" stroke="#444" stroke-width="0.8" />
<line x1="245.40" y1="586.30" x2="245.40" y2="589.70" stroke="#444" stroke-width="0.8" />
<text x="248.20" y="524.50" font-size="9.03" text-anchor="end" stroke="#333" stroke-width="0.12" textLength="24.00" lengthAdjust="spacingAndGlyphs" >90,7 %</text>
<text x="75.30" y="613.50" font-size="9.03" stroke="#333" stroke-width="0.12" textLength="43.30" lengthAdjust="spacingAndGlyphs" >Myc PE (CAR)</text>
<line x1="122.60" y1="610.30" x2="247.00" y2="610.30" stroke="#222" stroke-width="0.9" />
<path d="M246 608.6 L250 610.3 L246 612 Z" stroke="none" stroke-width="1" fill="#222" />
<text x="289.10" y="477.70" font-size="11" fill="#111" font-weight="bold" >H</text>
<text x="394.90" y="475.00" font-size="10.08" text-anchor="middle" stroke="#333" stroke-width="0.12" textLength="129.80" lengthAdjust="spacingAndGlyphs" >CAR-independent cytotoxicity</text>
<text x="394.80" y="487.00" font-size="10.08" text-anchor="middle" stroke="#333" stroke-width="0.12" textLength="94.30" lengthAdjust="spacingAndGlyphs" >(towards CD19<tspan dy="-3.2" font-size="6.8">−</tspan><tspan dy="3.2"> K562)</tspan></text>
<circle cx="314.60" cy="522.50" r="19.30" fill="#c3a86f" stroke="#ad935c" stroke-width="0.7"/>
<circle cx="314.60" cy="522.50" r="15.00" fill="none" stroke="#bfa060" stroke-width="0.6" opacity="0.6"/>
<circle cx="314.00" cy="526.00" r="10.00" fill="#a68d56" />
<text x="314.00" y="529.00" font-size="7.88" text-anchor="middle" fill="#f4ead4" stroke="#f4ead4" stroke-width="0.12" textLength="4.58" lengthAdjust="spacingAndGlyphs" >T</text>
<text x="353.50" y="510.00" font-size="9.24" text-anchor="middle" stroke="#333" stroke-width="0.12" textLength="36.40" lengthAdjust="spacingAndGlyphs" >Tumor cell</text>
<text x="353.70" y="518.80" font-size="9.24" text-anchor="middle" stroke="#333" stroke-width="0.12" textLength="23.40" lengthAdjust="spacingAndGlyphs" >(K562)</text>
<circle cx="343.50" cy="563.20" r="28.00" fill="url(#glowPu)" />
<line x1="327.88" y1="551.53" x2="324.67" y2="549.14" stroke="#6a6a8a" stroke-width="0.5" />
<circle cx="323.63" cy="548.36" r="1.00" fill="#8a7aa8" />
<line x1="335.39" y1="545.47" x2="333.72" y2="541.83" stroke="#6a6a8a" stroke-width="0.5" />
<circle cx="333.18" cy="540.65" r="1.00" fill="#8a7aa8" />
<line x1="344.88" y1="543.75" x2="345.16" y2="539.76" stroke="#6a6a8a" stroke-width="0.5" />
<circle cx="345.25" cy="538.46" r="1.00" fill="#8a7aa8" />
<line x1="354.04" y1="546.79" x2="356.20" y2="543.43" stroke="#6a6a8a" stroke-width="0.5" />
<circle cx="356.90" cy="542.33" r="1.00" fill="#8a7aa8" />
<line x1="360.61" y1="553.85" x2="364.12" y2="551.93" stroke="#6a6a8a" stroke-width="0.5" />
<circle cx="365.26" cy="551.31" r="1.00" fill="#8a7aa8" />
<line x1="363.00" y1="563.20" x2="367.00" y2="563.20" stroke="#6a6a8a" stroke-width="0.5" />
<circle cx="368.30" cy="563.20" r="1.00" fill="#8a7aa8" />
<line x1="360.61" y1="572.55" x2="364.12" y2="574.47" stroke="#6a6a8a" stroke-width="0.5" />
<circle cx="365.26" cy="575.09" r="1.00" fill="#8a7aa8" />
<line x1="354.04" y1="579.61" x2="356.20" y2="582.97" stroke="#6a6a8a" stroke-width="0.5" />
<circle cx="356.90" cy="584.07" r="1.00" fill="#8a7aa8" />
<line x1="344.88" y1="582.65" x2="345.16" y2="586.64" stroke="#6a6a8a" stroke-width="0.5" />
<circle cx="345.25" cy="587.94" r="1.00" fill="#8a7aa8" />
<line x1="335.39" y1="580.93" x2="333.72" y2="584.57" stroke="#6a6a8a" stroke-width="0.5" />
<circle cx="333.18" cy="585.75" r="1.00" fill="#8a7aa8" />
<line x1="327.88" y1="574.87" x2="324.67" y2="577.26" stroke="#6a6a8a" stroke-width="0.5" />
<circle cx="323.63" cy="578.04" r="1.00" fill="#8a7aa8" />
<circle cx="343.50" cy="563.20" r="19.80" fill="#b1ace0" stroke="#7f76c0" stroke-width="0.9"/>
<ellipse cx="339.5" cy="560.6" rx="10.4" ry="14.6" fill="#9c88d0"/>
<circle cx="348.94" cy="549.22" r="0.50" fill="#9088c0" />
<circle cx="352.59" cy="551.27" r="0.50" fill="#9088c0" />
<circle cx="355.53" cy="554.24" r="0.50" fill="#9088c0" />
<circle cx="357.54" cy="557.92" r="0.50" fill="#9088c0" />
<circle cx="358.45" cy="562.00" r="0.50" fill="#9088c0" />
<circle cx="358.20" cy="566.18" r="0.50" fill="#9088c0" />
<circle cx="356.80" cy="570.13" r="0.50" fill="#9088c0" />
<circle cx="354.37" cy="573.53" r="0.50" fill="#9088c0" />
<circle cx="351.09" cy="576.14" r="0.50" fill="#9088c0" />
<circle cx="347.22" cy="577.73" r="0.50" fill="#9088c0" />
<text x="339.50" y="563.80" font-size="7.88" text-anchor="middle" fill="#4a2a6a" stroke="#4a2a6a" stroke-width="0.12" textLength="5.00" lengthAdjust="spacingAndGlyphs" >E</text>
<line x1="364.50" y1="541.50" x2="368.00" y2="539.50" stroke="#9a5ab8" stroke-width="1.3" />
<line x1="365.70" y1="545.00" x2="369.20" y2="543.00" stroke="#9a5ab8" stroke-width="1.3" />
<line x1="356.00" y1="550.50" x2="360.00" y2="547.50" stroke="#2a6ab8" stroke-width="1.3" />
<line x1="353.50" y1="554.50" x2="356.80" y2="551.50" stroke="#e8b030" stroke-width="1.3" />
<path d="M311.4 547.9 C318 560 318 575 312.5 588" stroke="#111" stroke-width="0.9" fill="none" />
<path d="M309.6 586 L312.3 591.2 L315 587.2 Z" stroke="none" stroke-width="1" fill="#111" />
<circle cx="298.01" cy="627.10" r="2.70" fill="#7a7a7a" />
<circle cx="292.20" cy="614.75" r="3.30" fill="#7a7a7a" />
<circle cx="319.00" cy="631.29" r="2.10" fill="#7a7a7a" />
<circle cx="323.16" cy="626.69" r="1.50" fill="#7a7a7a" />
<circle cx="315.20" cy="633.43" r="1.20" fill="#7a7a7a" />
<ellipse cx="323.55" cy="614.44" rx="6.90" ry="5.40" transform="rotate(11.5 323.55 614.44)" fill="#8c8c8c" stroke="#666" stroke-width="0.90"/>
<ellipse cx="319.16" cy="621.62" rx="6.90" ry="5.40" transform="rotate(51.5 319.16 621.62)" fill="#8c8c8c" stroke="#666" stroke-width="0.90"/>
<ellipse cx="311.19" cy="624.30" rx="6.90" ry="5.40" transform="rotate(91.5 311.19 624.30)" fill="#8c8c8c" stroke="#666" stroke-width="0.90"/>
<ellipse cx="303.36" cy="621.22" rx="6.90" ry="5.40" transform="rotate(131.5 303.36 621.22)" fill="#8c8c8c" stroke="#666" stroke-width="0.90"/>
<ellipse cx="299.34" cy="613.83" rx="6.90" ry="5.40" transform="rotate(171.5 299.34 613.83)" fill="#8c8c8c" stroke="#666" stroke-width="0.90"/>
<ellipse cx="301.01" cy="605.58" rx="6.90" ry="5.40" transform="rotate(211.5 301.01 605.58)" fill="#8c8c8c" stroke="#666" stroke-width="0.90"/>
<ellipse cx="307.59" cy="600.34" rx="6.90" ry="5.40" transform="rotate(251.5 307.59 600.34)" fill="#8c8c8c" stroke="#666" stroke-width="0.90"/>
<ellipse cx="316.00" cy="600.55" rx="6.90" ry="5.40" transform="rotate(291.5 316.00 600.55)" fill="#8c8c8c" stroke="#666" stroke-width="0.90"/>
<ellipse cx="322.31" cy="606.12" rx="6.90" ry="5.40" transform="rotate(331.5 322.31 606.12)" fill="#8c8c8c" stroke="#666" stroke-width="0.90"/>
<circle cx="311.50" cy="612.00" r="11.70" fill="#8c8c8c" />
<circle cx="300.78" cy="615.31" r="0.75" fill="#5a5a5a" />
<circle cx="320.47" cy="607.38" r="0.75" fill="#5a5a5a" />
<circle cx="299.97" cy="611.43" r="0.75" fill="#5a5a5a" />
<circle cx="315.75" cy="621.76" r="0.75" fill="#5a5a5a" />
<circle cx="301.90" cy="601.79" r="0.75" fill="#5a5a5a" />
<circle cx="318.26" cy="616.54" r="0.75" fill="#5a5a5a" />
<circle cx="323.47" cy="619.67" r="0.75" fill="#5a5a5a" />
<circle cx="309.76" cy="607.31" r="0.75" fill="#5a5a5a" />
<circle cx="327.48" cy="610.21" r="0.75" fill="#5a5a5a" />
<circle cx="304.75" cy="602.21" r="0.75" fill="#5a5a5a" />
<circle cx="314.07" cy="615.91" r="0.75" fill="#5a5a5a" />
<circle cx="306.37" cy="611.08" r="0.75" fill="#5a5a5a" />
<circle cx="325.47" cy="614.83" r="2.40" fill="#a5a5a5" />
<circle cx="320.38" cy="623.15" r="2.40" fill="#a5a5a5" />
<circle cx="311.14" cy="626.25" r="2.40" fill="#a5a5a5" />
<circle cx="302.07" cy="622.68" r="2.40" fill="#a5a5a5" />
<circle cx="297.41" cy="614.12" r="2.40" fill="#a5a5a5" />
<circle cx="299.34" cy="604.56" r="2.40" fill="#a5a5a5" />
<circle cx="306.97" cy="598.49" r="2.40" fill="#a5a5a5" />
<circle cx="316.71" cy="598.74" r="2.40" fill="#a5a5a5" />
<circle cx="324.02" cy="605.19" r="2.40" fill="#a5a5a5" />
<circle cx="313.00" cy="611.55" r="6.60" fill="#4f4f4f" />
<circle cx="313.00" cy="611.55" r="4.20" fill="#3a3a3a" />
<text x="362.30" y="596.40" font-size="9.24" text-anchor="middle" stroke="#333" stroke-width="0.12" textLength="27.50" lengthAdjust="spacingAndGlyphs" >Effector</text>
<text x="362.30" y="605.00" font-size="9.24" text-anchor="middle" stroke="#333" stroke-width="0.12" textLength="45.30" lengthAdjust="spacingAndGlyphs" >(CAR NK-92)</text>
<text x="362.30" y="614.40" font-size="9.24" text-anchor="middle" stroke="#333" stroke-width="0.12" textLength="12.70" lengthAdjust="spacingAndGlyphs" >cell</text>
<text x="335.80" y="643.00" font-size="9.24" text-anchor="middle" stroke="#333" stroke-width="0.12" textLength="69.80" lengthAdjust="spacingAndGlyphs" >Death of Tumor cell</text>
<line x1="430.60" y1="500.60" x2="438.50" y2="500.60" stroke="#e0137f" stroke-width="1.1" />
<text x="442.00" y="503.50" font-size="8.4" stroke="#333" stroke-width="0.12" textLength="45.30" lengthAdjust="spacingAndGlyphs" >CD3<tspan font-style="italic">ζtrunc</tspan>CAR</text>
<line x1="430.60" y1="511.70" x2="438.50" y2="511.70" stroke="#7a5232" stroke-width="1.1" />
<text x="442.00" y="514.50" font-size="8.4" stroke="#333" stroke-width="0.12" textLength="39.50" lengthAdjust="spacingAndGlyphs" ><tspan font-style="italic">AAVS1</tspan> CAR</text>
<line x1="425.00" y1="519.80" x2="425.00" y2="607.30" stroke="#2a2a2a" stroke-width="1.1" />
<line x1="422.50" y1="607.30" x2="425.00" y2="607.30" stroke="#2a2a2a" stroke-width="0.9900000000000001" />
<text x="420.70" y="610.38" font-size="9.24" text-anchor="end" stroke="#333" stroke-width="0.12" textLength="4.89" lengthAdjust="spacingAndGlyphs" >0</text>
<line x1="422.50" y1="586.02" x2="425.00" y2="586.02" stroke="#2a2a2a" stroke-width="0.9900000000000001" />
<text x="420.70" y="589.11" font-size="9.24" text-anchor="end" stroke="#333" stroke-width="0.12" textLength="9.79" lengthAdjust="spacingAndGlyphs" >20</text>
<line x1="422.50" y1="564.75" x2="425.00" y2="564.75" stroke="#2a2a2a" stroke-width="0.9900000000000001" />
<text x="420.70" y="567.83" font-size="9.24" text-anchor="end" stroke="#333" stroke-width="0.12" textLength="9.79" lengthAdjust="spacingAndGlyphs" >40</text>
<line x1="422.50" y1="543.48" x2="425.00" y2="543.48" stroke="#2a2a2a" stroke-width="0.9900000000000001" />
<text x="420.70" y="546.56" font-size="9.24" text-anchor="end" stroke="#333" stroke-width="0.12" textLength="9.79" lengthAdjust="spacingAndGlyphs" >60</text>
<line x1="422.50" y1="522.20" x2="425.00" y2="522.20" stroke="#2a2a2a" stroke-width="0.9900000000000001" />
<text x="420.70" y="525.28" font-size="9.24" text-anchor="end" stroke="#333" stroke-width="0.12" textLength="9.79" lengthAdjust="spacingAndGlyphs" >80</text>
<line x1="425.00" y1="607.30" x2="512.80" y2="607.30" stroke="#2a2a2a" stroke-width="1.2" />
<line x1="433.50" y1="607.30" x2="433.50" y2="609.80" stroke="#2a2a2a" stroke-width="0.9" />
<line x1="445.32" y1="607.30" x2="445.32" y2="609.80" stroke="#2a2a2a" stroke-width="0.9" />
<line x1="457.14" y1="607.30" x2="457.14" y2="609.80" stroke="#2a2a2a" stroke-width="0.9" />
<line x1="468.96" y1="607.30" x2="468.96" y2="609.80" stroke="#2a2a2a" stroke-width="0.9" />
<line x1="480.78" y1="607.30" x2="480.78" y2="609.80" stroke="#2a2a2a" stroke-width="0.9" />
<line x1="492.60" y1="607.30" x2="492.60" y2="609.80" stroke="#2a2a2a" stroke-width="0.9" />
<line x1="504.42" y1="607.30" x2="504.42" y2="609.80" stroke="#2a2a2a" stroke-width="0.9" />
<text x="433.50" y="532.60" font-size="8.19" text-anchor="middle" stroke="#333" stroke-width="0.12" textLength="7.40" lengthAdjust="spacingAndGlyphs" >ns</text>
<text x="445.32" y="532.60" font-size="8.19" text-anchor="middle" stroke="#333" stroke-width="0.12" textLength="7.40" lengthAdjust="spacingAndGlyphs" >ns</text>
<text x="457.14" y="532.60" font-size="8.19" text-anchor="middle" stroke="#333" stroke-width="0.12" textLength="7.40" lengthAdjust="spacingAndGlyphs" >ns</text>
<text x="468.96" y="532.60" font-size="8.19" text-anchor="middle" stroke="#333" stroke-width="0.12" textLength="7.40" lengthAdjust="spacingAndGlyphs" >ns</text>
<text x="480.78" y="534.00" font-size="8.82" text-anchor="middle" stroke="#333" stroke-width="0.12" textLength="9.50" lengthAdjust="spacingAndGlyphs" >***</text>
<text x="495.20" y="534.00" font-size="8.82" text-anchor="middle" stroke="#333" stroke-width="0.12" textLength="9.50" lengthAdjust="spacingAndGlyphs" >***</text>
<text x="509.62" y="534.00" font-size="8.82" text-anchor="middle" stroke="#333" stroke-width="0.12" textLength="9.50" lengthAdjust="spacingAndGlyphs" >***</text>
<line x1="433.50" y1="607.30" x2="433.50" y2="598.79" stroke="#7a5232" stroke-width="0.9" />
<line x1="432.10" y1="607.30" x2="434.90" y2="607.30" stroke="#7a5232" stroke-width="0.9" />
<line x1="432.10" y1="598.79" x2="434.90" y2="598.79" stroke="#7a5232" stroke-width="0.9" />
<line x1="445.32" y1="606.24" x2="445.32" y2="596.66" stroke="#7a5232" stroke-width="0.9" />
<line x1="443.92" y1="606.24" x2="446.72" y2="606.24" stroke="#7a5232" stroke-width="0.9" />
<line x1="443.92" y1="596.66" x2="446.72" y2="596.66" stroke="#7a5232" stroke-width="0.9" />
<line x1="457.14" y1="600.92" x2="457.14" y2="592.41" stroke="#7a5232" stroke-width="0.9" />
<line x1="455.74" y1="600.92" x2="458.54" y2="600.92" stroke="#7a5232" stroke-width="0.9" />
<line x1="455.74" y1="592.41" x2="458.54" y2="592.41" stroke="#7a5232" stroke-width="0.9" />
<line x1="468.96" y1="597.73" x2="468.96" y2="588.15" stroke="#7a5232" stroke-width="0.9" />
<line x1="467.56" y1="597.73" x2="470.36" y2="597.73" stroke="#7a5232" stroke-width="0.9" />
<line x1="467.56" y1="588.15" x2="470.36" y2="588.15" stroke="#7a5232" stroke-width="0.9" />
<line x1="480.78" y1="593.47" x2="480.78" y2="580.71" stroke="#7a5232" stroke-width="0.9" />
<line x1="479.38" y1="593.47" x2="482.18" y2="593.47" stroke="#7a5232" stroke-width="0.9" />
<line x1="479.38" y1="580.71" x2="482.18" y2="580.71" stroke="#7a5232" stroke-width="0.9" />
<line x1="492.60" y1="590.28" x2="492.60" y2="579.64" stroke="#7a5232" stroke-width="0.9" />
<line x1="491.20" y1="590.28" x2="494.00" y2="590.28" stroke="#7a5232" stroke-width="0.9" />
<line x1="491.20" y1="579.64" x2="494.00" y2="579.64" stroke="#7a5232" stroke-width="0.9" />
<line x1="504.42" y1="581.77" x2="504.42" y2="572.20" stroke="#7a5232" stroke-width="0.9" />
<line x1="503.02" y1="581.77" x2="505.82" y2="581.77" stroke="#7a5232" stroke-width="0.9" />
<line x1="503.02" y1="572.20" x2="505.82" y2="572.20" stroke="#7a5232" stroke-width="0.9" />
<path d="M433.50 603.58 C435.47 603.13 441.38 602.07 445.32 600.92 C449.26 599.77 453.20 597.90 457.14 596.66 C461.08 595.42 465.02 595.07 468.96 593.47 C472.90 591.88 476.84 588.51 480.78 587.09 C484.72 585.67 488.66 586.56 492.60 584.96 C496.54 583.37 502.45 578.76 504.42 577.51" stroke="#7a5232" stroke-width="1.2" fill="none" />
<line x1="433.50" y1="606.24" x2="433.50" y2="595.60" stroke="#e0137f" stroke-width="0.9" />
<line x1="432.10" y1="606.24" x2="434.90" y2="606.24" stroke="#e0137f" stroke-width="0.9" />
<line x1="432.10" y1="595.60" x2="434.90" y2="595.60" stroke="#e0137f" stroke-width="0.9" />
<line x1="445.32" y1="606.24" x2="445.32" y2="596.66" stroke="#e0137f" stroke-width="0.9" />
<line x1="443.92" y1="606.24" x2="446.72" y2="606.24" stroke="#e0137f" stroke-width="0.9" />
<line x1="443.92" y1="596.66" x2="446.72" y2="596.66" stroke="#e0137f" stroke-width="0.9" />
<line x1="457.14" y1="601.98" x2="457.14" y2="591.34" stroke="#e0137f" stroke-width="0.9" />
<line x1="455.74" y1="601.98" x2="458.54" y2="601.98" stroke="#e0137f" stroke-width="0.9" />
<line x1="455.74" y1="591.34" x2="458.54" y2="591.34" stroke="#e0137f" stroke-width="0.9" />
<line x1="468.96" y1="594.53" x2="468.96" y2="586.02" stroke="#e0137f" stroke-width="0.9" />
<line x1="467.56" y1="594.53" x2="470.36" y2="594.53" stroke="#e0137f" stroke-width="0.9" />
<line x1="467.56" y1="586.02" x2="470.36" y2="586.02" stroke="#e0137f" stroke-width="0.9" />
<line x1="480.78" y1="584.96" x2="480.78" y2="573.26" stroke="#e0137f" stroke-width="0.9" />
<line x1="479.38" y1="584.96" x2="482.18" y2="584.96" stroke="#e0137f" stroke-width="0.9" />
<line x1="479.38" y1="573.26" x2="482.18" y2="573.26" stroke="#e0137f" stroke-width="0.9" />
<line x1="492.60" y1="569.00" x2="492.60" y2="560.50" stroke="#e0137f" stroke-width="0.9" />
<line x1="491.20" y1="569.00" x2="494.00" y2="569.00" stroke="#e0137f" stroke-width="0.9" />
<line x1="491.20" y1="560.50" x2="494.00" y2="560.50" stroke="#e0137f" stroke-width="0.9" />
<line x1="504.42" y1="556.24" x2="504.42" y2="536.03" stroke="#e0137f" stroke-width="0.9" />
<line x1="503.02" y1="556.24" x2="505.82" y2="556.24" stroke="#e0137f" stroke-width="0.9" />
<line x1="503.02" y1="536.03" x2="505.82" y2="536.03" stroke="#e0137f" stroke-width="0.9" />
<path d="M433.50 600.92 C435.47 601.01 441.38 602.07 445.32 601.45 C449.26 600.83 453.20 599.06 457.14 597.19 C461.08 595.33 465.02 593.21 468.96 590.28 C472.90 587.35 476.84 583.90 480.78 579.64 C484.72 575.39 488.66 570.07 492.60 564.75 C496.54 559.43 502.45 550.57 504.42 547.73" stroke="#e0137f" stroke-width="1.3" fill="none" />
<text x="404.00" y="568.00" font-size="9.24" text-anchor="middle" stroke="#333" stroke-width="0.12" textLength="38.40" lengthAdjust="spacingAndGlyphs" transform="rotate(-90 404.00 568.00)" >Elimination %</text>
<text x="436.70" y="613.80" font-size="9.24" text-anchor="end" stroke="#333" stroke-width="0.12" textLength="16.56" lengthAdjust="spacingAndGlyphs" transform="rotate(-90 436.70 613.80)" >1/8:1</text>
<text x="448.52" y="613.80" font-size="9.24" text-anchor="end" stroke="#333" stroke-width="0.12" textLength="16.56" lengthAdjust="spacingAndGlyphs" transform="rotate(-90 448.52 613.80)" >1/4:1</text>
<text x="460.34" y="613.80" font-size="9.24" text-anchor="end" stroke="#333" stroke-width="0.12" textLength="16.56" lengthAdjust="spacingAndGlyphs" transform="rotate(-90 460.34 613.80)" >1/2:1</text>
<text x="472.16" y="613.80" font-size="9.24" text-anchor="end" stroke="#333" stroke-width="0.12" textLength="11.04" lengthAdjust="spacingAndGlyphs" transform="rotate(-90 472.16 613.80)" >1:1</text>
<text x="483.98" y="613.80" font-size="9.24" text-anchor="end" stroke="#333" stroke-width="0.12" textLength="11.04" lengthAdjust="spacingAndGlyphs" transform="rotate(-90 483.98 613.80)" >2:1</text>
<text x="495.80" y="613.80" font-size="9.24" text-anchor="end" stroke="#333" stroke-width="0.12" textLength="11.04" lengthAdjust="spacingAndGlyphs" transform="rotate(-90 495.80 613.80)" >4:1</text>
<text x="507.62" y="613.80" font-size="9.24" text-anchor="end" stroke="#333" stroke-width="0.12" textLength="11.04" lengthAdjust="spacingAndGlyphs" transform="rotate(-90 507.62 613.80)" >8:1</text>
<text x="468.90" y="643.00" font-size="9.24" text-anchor="middle" stroke="#333" stroke-width="0.12" textLength="39.75" lengthAdjust="spacingAndGlyphs" >E:T cell ratio</text><rect x="0.65" y="0.65" width="518.7" height="650.7" fill="none" stroke="#4a4a4a" stroke-width="1.3"/></svg></body></html>
